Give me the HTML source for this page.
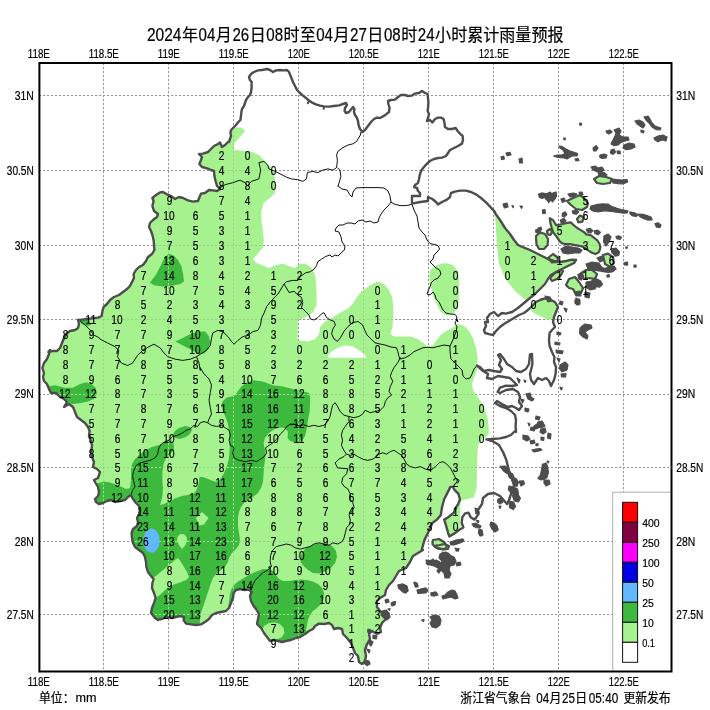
<!DOCTYPE html><html><head><meta charset="utf-8"><title>24小时累计雨量预报</title>
<style>html,body{margin:0;padding:0;background:#fff}body{width:710px;height:710px;overflow:hidden}svg{display:block}text{font-family:"Liberation Sans","Noto Sans CJK SC",sans-serif;fill:#000;stroke:#000;stroke-width:0.2px}</style></head><body>
<svg width="710" height="710" viewBox="0 0 710 710">
<rect width="710" height="710" fill="#fff"/>
<defs><clipPath id="land"><path d="M229.0,142.0 L230.0,139.0 L231.0,136.0 L230.4,133.0 L231.0,130.0 L233.0,128.0 L236.0,125.0 L238.0,122.4 L240.4,120.0 L241.0,116.0 L241.4,112.0 L242.0,109.0 L244.0,106.0 L245.0,103.0 L246.0,100.0 L248.0,97.0 L250.0,95.0 L251.0,92.0 L251.6,88.0 L251.6,82.0 L250.0,80.0 L249.0,77.0 L251.0,74.0 L254.0,72.0 L258.0,70.4 L262.0,70.0 L267.0,69.0 L270.0,70.0 L273.0,72.0 L276.0,70.4 L280.0,70.0 L284.0,70.4 L284.0,70.4 L287.0,70.0 L289.0,72.0 L291.0,77.0 L293.0,82.0 L295.0,86.0 L297.0,90.0 L300.0,93.0 L303.0,95.6 L306.0,98.0 L309.0,100.6 L312.0,102.6 L316.0,104.4 L320.0,105.6 L324.0,106.4 L329.0,106.6 L334.0,106.0 L339.0,105.4 L343.0,104.0 L346.0,103.0 L347.0,105.0 L345.0,108.0 L344.6,111.0 L346.0,113.0 L349.0,112.0 L351.0,109.6 L353.0,107.0 L354.4,109.0 L354.0,112.0 L355.0,115.0 L357.0,118.0 L358.0,121.0 L358.6,125.0 L360.0,129.0 L362.4,132.0 L365.0,130.0 L368.0,126.0 L371.0,122.0 L374.0,119.0 L377.0,117.6 L380.0,118.0 L380.0,118.0 L383.0,116.4 L386.0,114.4 L389.0,112.0 L389.6,108.0 L388.4,104.0 L388.0,101.0 L391.0,100.0 L395.0,99.6 L398.0,97.0 L401.0,95.0 L405.0,95.0 L408.0,96.0 L412.0,95.6 L415.0,93.6 L419.0,93.0 L422.0,91.0 L425.0,93.0 L427.6,94.0 L428.0,98.0 L428.4,103.0 L428.0,108.0 L427.6,111.0 L429.0,114.0 L428.0,118.0 L427.0,121.0 L430.0,120.0 L432.4,122.4 L435.0,119.0 L438.0,117.6 L441.0,117.6 L443.6,119.0 L444.4,122.4 L445.0,127.0 L448.0,129.0 L452.0,129.0 L455.6,128.0 L457.6,131.0 L460.0,133.6 L462.6,136.0 L463.0,140.0 L462.0,143.6 L458.0,146.0 L454.0,148.0 L450.0,150.0 L448.0,153.0 L446.0,156.0 L442.0,157.6 L438.0,158.0 L434.0,159.0 L430.0,161.0 L427.0,163.6 L424.0,167.0 L421.6,170.0 L420.0,174.0 L419.0,179.0 L418.0,183.0 L415.0,185.0 L414.0,187.0 L417.0,188.0 L418.0,191.0 L420.0,193.0 L420.0,196.0 L412.0,196.0 L412.0,203.6 L420.0,202.0 L428.0,201.0 L428.0,197.0 L432.4,199.0 L436.0,202.0 L438.0,204.4 L442.0,202.0 L447.0,199.6 L450.0,197.0 L451.0,193.0 L455.0,191.6 L460.0,190.6 L466.0,190.6 L471.0,192.0 L476.0,194.4 L481.0,198.0 L486.0,202.4 L491.0,207.6 L495.0,212.0 L495.0,213.0 L500.0,220.0 L505.0,228.0 L510.0,234.0 L514.0,240.0 L518.0,245.0 L524.0,247.6 L530.0,250.0 L536.0,253.0 L542.0,256.0 L548.0,259.0 L554.0,261.0 L560.0,262.0 L566.0,261.0 L572.0,259.6 L576.0,260.0 L574.0,263.0 L568.0,266.0 L562.0,269.0 L556.0,272.0 L551.0,275.0 L548.0,279.0 L545.0,284.0 L540.0,289.0 L535.0,294.0 L530.0,298.0 L524.0,303.0 L518.0,308.0 L512.0,312.0 L506.0,313.6 L502.0,313.0 L498.0,316.0 L494.0,312.0 L490.0,314.0 L487.0,318.0 L488.0,322.0 L488.0,322.0 L485.0,322.0 L486.0,326.0 L484.0,330.0 L485.0,333.0 L490.0,334.4 L493.0,335.0 L496.0,331.0 L500.0,327.0 L504.0,324.0 L509.0,321.0 L514.0,318.0 L519.0,315.0 L524.0,313.0 L528.0,310.0 L532.0,306.0 L536.0,302.0 L540.0,300.0 L545.0,298.4 L550.0,299.6 L555.0,302.0 L558.0,307.0 L556.0,312.0 L554.0,317.0 L553.0,322.0 L555.0,327.0 L552.0,330.0 L549.6,333.0 L549.0,340.0 L549.6,346.0 L552.0,352.0 L554.4,357.0 L554.0,362.0 L556.0,367.0 L555.6,374.0 L554.0,380.0 L551.0,386.0 L549.0,381.0 L546.0,378.0 L542.0,380.0 L538.0,378.0 L534.0,384.0 L531.0,380.0 L530.0,374.0 L531.0,370.0 L532.4,364.0 L532.0,354.0 L530.0,354.4 L529.0,364.0 L526.0,369.0 L521.0,372.0 L516.0,371.0 L512.0,367.0 L507.0,364.0 L504.0,359.0 L500.0,354.0 L498.0,355.0 L501.0,360.0 L499.0,365.0 L502.0,369.0 L500.0,372.0 L494.0,371.0 L489.0,370.0 L484.0,371.0 L480.0,367.0 L477.0,365.6 L483.0,371.0 L488.0,374.0 L487.0,378.0 L492.0,379.0 L498.0,376.0 L504.0,377.0 L510.0,378.0 L514.0,382.0 L517.0,385.0 L512.0,386.0 L506.0,385.6 L500.0,387.6 L497.6,392.0 L500.0,393.0 L506.0,390.0 L513.0,389.0 L518.0,392.0 L520.0,397.0 L519.0,402.0 L522.0,406.0 L519.0,410.0 L516.0,408.0 L512.0,406.0 L508.0,407.0 L502.0,404.0 L497.0,401.0 L495.0,403.0 L500.0,406.0 L506.0,408.0 L511.0,411.0 L515.0,415.0 L516.0,420.0 L515.6,426.0 L516.0,432.0 L515.0,431.0 L511.0,435.0 L506.0,437.0 L500.0,438.4 L492.0,439.0 L486.4,439.4 L492.4,441.0 L499.0,445.0 L503.0,452.0 L506.0,459.0 L507.6,465.0 L509.0,471.0 L512.0,477.0 L514.4,482.0 L513.6,488.0 L511.0,494.0 L509.0,500.0 L507.0,504.0 L503.6,500.0 L500.0,496.0 L494.0,493.0 L488.0,494.0 L483.0,498.0 L482.0,504.0 L478.0,510.0 L478.6,513.9 L476.3,517.3 L474.1,519.6 L470.7,517.3 L468.5,512.8 L465.1,513.4 L462.3,517.3 L461.7,523.0 L463.4,527.5 L459.4,529.7 L454.9,533.1 L449.3,536.5 L448.2,533.1 L445.9,525.2 L444.2,519.6 L448.2,517.3 L453.8,512.8 L456.1,507.2 L458.3,503.8 L460.0,499.3 L458.3,493.7 L454.9,490.3 L452.7,486.9 L450.4,486.9 L448.2,491.4 L444.2,499.3 L442.0,507.2 L440.8,515.1 L436.9,519.6 L432.4,523.0 L429.0,530.8 L424.5,539.9 L422.3,547.7 L421.7,550.0 L423.0,550.0 L418.0,553.0 L413.0,556.0 L410.0,562.0 L406.0,568.0 L399.0,571.0 L396.0,576.0 L393.0,581.0 L389.0,585.0 L386.0,590.0 L385.0,595.0 L380.0,598.0 L377.0,601.0 L377.0,607.0 L380.0,611.0 L384.0,614.0 L386.0,619.0 L382.0,623.0 L380.0,628.0 L381.0,632.0 L377.0,634.0 L372.0,631.0 L369.0,634.0 L370.0,639.0 L367.0,644.0 L365.0,650.0 L366.0,656.0 L365.0,661.0 L362.0,664.0 L359.0,662.0 L358.0,656.0 L355.0,653.0 L353.0,648.0 L351.0,643.0 L347.0,638.0 L343.0,634.0 L342.0,629.0 L338.0,628.0 L334.0,629.0 L332.0,625.0 L329.0,623.0 L324.0,624.0 L319.0,623.6 L315.0,626.0 L313.0,629.0 L309.0,631.0 L305.0,634.0 L300.0,637.0 L300.0,637.0 L296.0,638.0 L291.0,640.0 L286.0,641.0 L282.0,642.0 L278.0,641.0 L274.0,640.0 L270.0,641.0 L267.0,637.0 L264.0,633.0 L261.0,628.0 L257.0,624.0 L258.0,619.0 L259.0,614.0 L256.0,609.0 L253.0,605.0 L251.0,601.0 L250.0,596.0 L251.6,592.0 L249.0,589.6 L244.0,590.0 L240.0,589.0 L236.0,590.0 L233.6,593.0 L233.0,598.0 L231.0,603.0 L229.0,608.0 L226.0,611.0 L221.0,612.0 L216.0,613.0 L212.0,615.0 L209.0,619.0 L205.0,622.0 L201.0,624.4 L196.0,625.0 L191.0,624.4 L186.0,623.6 L183.6,620.0 L184.0,617.0 L180.0,616.0 L176.0,617.0 L172.0,618.0 L167.0,617.0 L162.0,619.0 L158.0,619.6 L158.0,620.0 L155.0,618.0 L151.0,613.0 L152.0,608.0 L154.0,603.0 L155.6,598.0 L154.0,593.0 L152.0,588.0 L152.4,583.0 L153.6,579.0 L151.0,576.0 L148.0,572.0 L146.4,567.0 L146.0,562.0 L145.0,557.0 L143.0,553.0 L139.0,550.0 L135.0,547.0 L133.0,543.0 L132.0,538.0 L131.6,533.0 L133.0,529.0 L137.0,526.0 L138.0,522.0 L137.0,518.0 L139.0,514.0 L140.0,510.0 L139.0,506.0 L136.0,503.0 L133.0,499.0 L131.0,495.0 L128.0,497.0 L125.0,500.0 L120.0,501.0 L115.0,502.0 L111.0,500.0 L107.0,501.0 L103.0,503.0 L99.0,504.0 L96.0,502.0 L95.0,499.0 L98.0,496.0 L99.0,492.0 L98.0,487.0 L95.6,483.0 L94.0,480.0 L94.0,480.0 L98.0,478.0 L100.0,472.0 L97.0,469.0 L93.0,467.0 L94.0,462.0 L92.0,457.0 L91.0,452.0 L92.0,446.0 L91.0,441.0 L89.0,436.0 L89.6,431.0 L88.0,427.0 L85.0,423.0 L81.0,420.0 L77.0,417.0 L75.0,412.0 L73.0,407.0 L69.0,404.0 L64.0,407.0 L67.0,402.0 L64.0,399.0 L60.0,397.0 L56.0,393.0 L51.0,393.0 L49.0,389.0 L47.0,384.0 L44.0,381.0 L43.0,377.0 L44.0,373.0 L42.4,368.0 L44.0,363.0 L47.0,359.0 L49.0,354.0 L50.0,350.0 L50.0,350.0 L48.4,352.0 L52.0,351.0 L57.0,351.0 L60.0,348.0 L62.0,343.0 L64.0,338.0 L66.0,334.0 L70.0,331.0 L75.0,330.0 L78.0,328.0 L79.0,324.0 L78.0,320.0 L82.0,319.6 L87.0,319.0 L92.0,318.4 L98.0,317.6 L101.6,316.0 L102.4,311.0 L103.6,307.0 L107.0,304.0 L110.0,300.0 L114.0,297.0 L119.0,295.0 L123.0,292.0 L127.0,289.0 L130.0,286.0 L132.0,282.0 L134.0,278.0 L133.6,274.0 L136.0,270.0 L139.0,267.0 L143.0,265.0 L146.0,261.0 L148.0,257.0 L152.0,254.0 L154.4,250.0 L154.0,245.0 L153.6,240.0 L152.4,235.0 L151.0,231.0 L149.0,227.0 L150.0,223.0 L153.0,220.0 L153.0,220.0 L157.0,217.0 L158.0,214.0 L154.0,211.0 L152.4,206.0 L153.6,201.0 L152.4,198.0 L156.0,195.0 L160.0,192.4 L163.0,192.0 L167.0,194.4 L171.0,196.0 L175.0,199.0 L179.0,197.0 L183.0,198.0 L188.0,200.4 L193.0,201.6 L198.0,201.0 L199.6,197.0 L201.0,193.6 L205.0,193.0 L209.0,190.0 L213.0,190.4 L217.0,191.0 L220.0,189.0 L217.0,186.0 L215.6,181.0 L214.4,176.0 L214.0,171.0 L211.0,170.0 L207.0,168.4 L202.0,167.0 L199.4,164.0 L201.0,160.0 L202.0,157.0 L199.0,154.0 L203.0,153.6 L208.0,152.0 L211.0,149.0 L214.0,146.0 L218.0,144.0 L220.0,142.4 L222.0,147.0 L225.0,145.0 L228.0,142.0ZM567.0,201.0 L573.0,198.0 L580.0,195.0 L584.0,198.0 L588.0,203.0 L587.0,207.0 L582.0,210.0 L576.0,209.0 L571.0,205.0Z M577.0,219.0 L580.0,215.6 L583.6,217.0 L582.4,221.6 L578.4,222.4Z M549.7,218.2 L553.2,220.3 L556.1,225.2 L560.3,224.5 L565.9,223.1 L570.8,222.4 L573.7,225.2 L577.2,228.0 L580.7,230.1 L584.2,232.3 L586.3,234.4 L590.6,235.1 L594.1,237.9 L597.6,240.7 L599.7,244.2 L600.4,247.7 L599.0,252.0 L595.5,254.1 L592.0,252.7 L588.5,250.6 L585.6,248.5 L582.1,246.3 L577.9,245.6 L573.7,244.9 L570.1,244.2 L565.9,244.2 L562.4,243.5 L559.6,241.4 L557.5,237.9 L555.4,235.1 L553.2,232.3 L551.8,228.0 L550.4,223.1Z M536.0,236.0 L540.0,232.4 L545.0,234.0 L548.0,239.0 L547.6,245.0 L544.0,249.0 L539.0,249.0 L536.4,244.0Z M547.0,231.0 L550.0,229.0 L552.4,231.6 L550.4,235.0 L547.6,234.4Z M594.0,179.0 L599.0,176.0 L606.0,177.0 L612.0,179.0 L610.0,183.0 L603.0,184.0 L597.0,183.0Z M603.0,255.0 L608.0,253.6 L613.0,257.0 L614.0,263.0 L610.0,267.0 L605.0,264.0Z M566.0,285.0 L569.0,279.0 L575.0,277.0 L579.0,282.0 L583.0,288.0 L581.0,293.0 L576.0,294.0 L573.0,289.0 L569.0,288.0Z M580.0,274.0 L586.0,270.0 L592.0,270.0 L597.0,274.0 L595.0,279.0 L589.0,278.0 L584.0,279.0Z M548.0,258.0 L553.0,254.0 L557.0,257.0 L559.0,262.0 L552.0,262.4Z M550.0,278.0 L555.0,273.0 L560.0,270.0 L563.0,271.0 L561.0,275.0 L557.0,279.0 L552.0,281.0Z M440.0,545.0 L444.0,544.0 L449.0,546.0 L448.0,549.0 L443.0,549.6 L440.0,548.4 L437.0,548.0 L436.0,545.6Z M433.0,540.0 L439.0,539.0 L444.0,542.0 L447.0,546.0 L445.0,549.0 L439.0,549.0 L435.0,547.0 L432.4,544.0Z"/></clipPath>
<clipPath id="dg"><path d="M168.2,253.9 L163.9,258.9 L160.2,266.4 L156.4,274.0 L152.6,279.0 L150.1,282.7 L153.9,285.2 L162.7,286.5 L172.7,285.7 L180.2,284.0 L184.0,281.5 L183.2,274.0 L181.5,266.4 L178.2,260.2 L174.0,255.7 L170.2,253.9Z M175.2,341.6 L182.7,337.9 L190.3,334.1 L199.0,331.6 L205.3,331.6 L209.1,336.6 L210.3,342.9 L208.3,349.2 L204.0,353.4 L199.0,354.2 L192.8,350.4 L185.2,346.7 L179.0,343.4Z M78.9,320.1 L88.9,318.8 L91.4,325.1 L86.4,326.3 L81.4,323.8Z M47.5,386.5 L55.1,385.2 L65.1,387.7 L72.6,387.7 L80.1,384.0 L86.4,382.2 L91.4,384.0 L95.7,387.7 L97.2,394.0 L93.9,399.0 L87.7,401.5 L80.1,403.3 L72.6,404.0 L65.1,401.5 L57.6,397.8 L51.3,394.0 L47.5,390.3Z M174.0,432.0 L179.0,428.0 L185.0,426.0 L190.0,427.0 L192.0,430.0 L190.0,434.0 L186.0,437.0 L180.0,439.0 L175.0,438.0 L173.6,435.0Z M300.0,559.0 L302.0,553.0 L306.0,548.0 L312.0,545.0 L319.0,543.6 L326.0,543.6 L332.0,546.0 L336.0,551.0 L337.0,557.0 L335.0,563.0 L331.0,568.0 L325.0,571.6 L319.0,573.6 L313.0,573.0 L308.0,570.0 L303.6,566.0 L301.0,562.4Z M228.0,640.0 L228.0,615.0 L228.0,607.0 L229.0,602.0 L229.6,596.0 L231.0,590.0 L234.0,585.0 L238.0,581.6 L243.0,578.4 L248.0,575.6 L253.0,573.0 L258.0,571.0 L263.0,569.0 L268.0,569.0 L273.0,571.0 L276.0,575.0 L279.0,579.0 L283.0,581.0 L289.0,581.0 L295.0,580.0 L301.0,579.6 L307.0,580.0 L313.0,581.6 L318.0,584.0 L322.0,588.0 L324.0,593.0 L323.6,599.0 L321.0,604.0 L317.0,608.0 L313.0,611.0 L310.0,615.0 L308.0,620.0 L307.0,625.0 L306.0,630.0 L306.0,660.0 L228.0,660.0Z M253.9,380.3 L262.7,381.5 L272.7,385.3 L282.7,386.5 L292.8,389.0 L302.8,391.6 L309.0,392.8 L310.3,397.8 L309.8,410.4 L308.0,420.0 L307.0,428.0 L305.0,436.0 L302.0,441.0 L296.0,442.4 L290.0,441.0 L287.6,438.0 L288.0,432.0 L285.0,428.0 L280.0,427.6 L274.0,429.6 L269.0,433.0 L265.0,438.0 L263.6,443.0 L264.4,448.0 L265.6,453.0 L265.0,460.0 L264.0,467.0 L263.6,474.0 L263.0,482.0 L261.0,488.0 L258.0,493.0 L253.0,497.0 L248.0,500.0 L244.0,503.0 L241.0,507.0 L239.0,512.0 L238.0,518.0 L238.0,526.0 L239.0,533.0 L240.0,540.0 L239.0,545.0 L236.0,549.0 L232.0,553.0 L229.0,558.0 L228.0,562.0 L225.0,567.0 L220.0,571.0 L216.0,574.0 L213.0,578.0 L211.0,583.0 L209.0,589.0 L207.0,595.0 L205.0,601.0 L203.0,607.0 L201.0,613.0 L200.0,619.0 L199.0,640.0 L120.0,660.0 L70.0,560.0 L88.0,484.0 L99.0,483.0 L104.0,481.5 L110.0,482.5 L116.0,484.4 L122.0,487.0 L126.0,489.0 L130.0,488.0 L131.0,480.0 L131.0,470.0 L132.0,464.0 L135.0,459.0 L140.0,454.0 L146.0,450.0 L152.0,447.0 L159.0,445.0 L164.0,443.0 L168.0,441.0 L171.6,441.6 L174.0,445.0 L173.6,450.0 L170.0,455.0 L166.0,458.0 L163.6,464.0 L162.4,472.0 L162.4,480.0 L163.0,488.0 L162.4,496.0 L161.0,502.0 L160.0,505.0 L164.0,504.0 L170.0,501.0 L176.0,498.0 L182.0,496.0 L188.0,495.0 L193.0,494.0 L196.0,491.0 L198.0,486.0 L199.0,481.0 L199.6,477.0 L203.0,477.0 L208.0,479.0 L213.0,481.0 L217.0,482.0 L220.4,479.0 L224.0,473.0 L227.0,466.0 L229.0,458.0 L229.6,450.0 L230.0,440.0 L229.0,432.0 L228.0,424.0 L225.0,416.0 L222.6,410.0 L221.3,405.0 L222.6,401.6 L226.3,397.8 L231.3,396.6 L235.0,395.3 L237.6,391.6 L241.4,386.5 L246.4,382.8Z"/></clipPath>
<clipPath id="frame"><rect x="39.4" y="63" width="631.6" height="608.3"/></clipPath></defs>
<g clip-path="url(#frame)">
<path d="M39,95.5H671 M39,170.5H671 M39,245.5H671 M39,319.5H671 M39,394.5H671 M39,467.5H671 M39,541.5H671 M39,614.5H671 M103.5,63V671 M168.5,63V671 M233.5,63V671 M298.5,63V671 M363.5,63V671 M428.5,63V671 M493.5,63V671 M558.5,63V671 M623.5,63V671" stroke="#959595" stroke-width="1" stroke-dasharray="2.2,1.8" fill="none" opacity="1" />
<g clip-path="url(#land)">
<path d="M0.0,700.0 L0.0,127.5 L241.4,127.5 L245.1,131.3 L233.8,143.8 L233.8,150.1 L250.1,151.3 L258.9,155.1 L263.9,160.1 L270.2,166.4 L274.0,172.6 L275.2,182.7 L275.2,192.7 L270.2,197.7 L263.9,202.7 L261.4,210.3 L261.4,220.3 L262.7,230.3 L263.9,240.3 L262.7,247.9 L257.7,254.1 L252.6,259.1 L256.4,262.9 L262.7,265.4 L268.9,267.9 L275.2,265.4 L282.7,263.4 L290.3,266.7 L295.3,267.9 L299.0,264.2 L305.3,263.4 L311.6,267.9 L315.3,275.4 L316.3,288.0 L316.6,298.0 L316.6,280.0 L316.6,305.1 L312.8,312.6 L305.3,317.6 L299.0,319.6 L297.8,321.4 L297.8,338.9 L299.0,340.2 L307.8,341.4 L315.3,338.9 L319.1,333.9 L320.3,326.4 L325.4,321.4 L332.9,317.6 L340.4,312.6 L347.9,308.8 L352.9,303.8 L356.7,297.5 L361.7,291.3 L370.5,285.0 L378.0,281.3 L377.7,281.4 L384.0,283.9 L389.0,290.1 L392.3,297.7 L393.3,307.7 L393.3,317.7 L392.3,327.7 L390.3,334.0 L394.0,336.5 L400.3,336.5 L410.3,336.5 L417.8,339.0 L422.8,342.8 L427.9,346.5 L432.9,345.3 L436.6,340.3 L440.4,335.3 L445.4,331.5 L450.4,329.0 L456.7,325.2 L458.0,324.0 L464.0,326.0 L469.0,331.0 L473.0,338.0 L476.0,348.0 L477.6,358.0 L477.0,370.0 L474.0,378.0 L472.0,384.0 L473.0,390.0 L477.0,396.0 L481.0,402.0 L485.0,410.0 L488.0,420.0 L489.0,432.0 L488.0,435.0 L483.0,439.0 L479.0,443.0 L477.6,450.0 L477.0,470.0 L476.6,488.0 L474.0,497.0 L468.0,499.0 L462.0,500.0 L460.3,503.0 L460.3,531.0 L459.0,700.0Z" fill="#a6f28f"/>
<path d="M430.4,270.1 L436.6,265.1 L445.4,263.1 L452.9,265.1 L457.9,271.3 L459.2,280.1 L459.2,295.2 L457.9,307.7 L452.9,314.0 L445.4,315.2 L440.4,311.5 L436.6,303.9 L432.9,295.2 L430.4,285.1 L429.1,277.6Z" fill="#a6f28f"/>
<path d="M495.0,150.0 L495.0,213.0 L496.0,230.0 L497.0,246.0 L499.0,264.0 L506.0,280.0 L516.0,292.0 L526.0,300.0 L530.0,306.0 L532.0,312.0 L540.0,316.0 L548.0,320.0 L554.0,318.0 L560.0,312.0 L660.0,312.0 L660.0,150.0Z" fill="#a6f28f"/>
<path d="M327.9,357.7 L328.4,355.2 L331.6,351.5 L337.9,347.7 L345.4,345.2 L352.9,346.4 L359.2,350.2 L364.2,354.0 L366.7,357.7Z" fill="#fff"/>
<path d="M39,95.5H671 M39,170.5H671 M39,245.5H671 M39,319.5H671 M39,394.5H671 M39,467.5H671 M39,541.5H671 M39,614.5H671 M103.5,63V671 M168.5,63V671 M233.5,63V671 M298.5,63V671 M363.5,63V671 M428.5,63V671 M493.5,63V671 M558.5,63V671 M623.5,63V671" stroke="#7a8a7a" stroke-width="1" stroke-dasharray="2.2,1.8" fill="none" opacity="0.28" />
<path d="M168.2,253.9 L163.9,258.9 L160.2,266.4 L156.4,274.0 L152.6,279.0 L150.1,282.7 L153.9,285.2 L162.7,286.5 L172.7,285.7 L180.2,284.0 L184.0,281.5 L183.2,274.0 L181.5,266.4 L178.2,260.2 L174.0,255.7 L170.2,253.9Z" fill="#3dba3d"/>
<path d="M175.2,341.6 L182.7,337.9 L190.3,334.1 L199.0,331.6 L205.3,331.6 L209.1,336.6 L210.3,342.9 L208.3,349.2 L204.0,353.4 L199.0,354.2 L192.8,350.4 L185.2,346.7 L179.0,343.4Z" fill="#3dba3d"/>
<path d="M78.9,320.1 L88.9,318.8 L91.4,325.1 L86.4,326.3 L81.4,323.8Z" fill="#3dba3d"/>
<path d="M47.5,386.5 L55.1,385.2 L65.1,387.7 L72.6,387.7 L80.1,384.0 L86.4,382.2 L91.4,384.0 L95.7,387.7 L97.2,394.0 L93.9,399.0 L87.7,401.5 L80.1,403.3 L72.6,404.0 L65.1,401.5 L57.6,397.8 L51.3,394.0 L47.5,390.3Z" fill="#3dba3d"/>
<path d="M174.0,432.0 L179.0,428.0 L185.0,426.0 L190.0,427.0 L192.0,430.0 L190.0,434.0 L186.0,437.0 L180.0,439.0 L175.0,438.0 L173.6,435.0Z" fill="#3dba3d"/>
<path d="M300.0,559.0 L302.0,553.0 L306.0,548.0 L312.0,545.0 L319.0,543.6 L326.0,543.6 L332.0,546.0 L336.0,551.0 L337.0,557.0 L335.0,563.0 L331.0,568.0 L325.0,571.6 L319.0,573.6 L313.0,573.0 L308.0,570.0 L303.6,566.0 L301.0,562.4Z" fill="#3dba3d"/>
<path d="M228.0,640.0 L228.0,615.0 L228.0,607.0 L229.0,602.0 L229.6,596.0 L231.0,590.0 L234.0,585.0 L238.0,581.6 L243.0,578.4 L248.0,575.6 L253.0,573.0 L258.0,571.0 L263.0,569.0 L268.0,569.0 L273.0,571.0 L276.0,575.0 L279.0,579.0 L283.0,581.0 L289.0,581.0 L295.0,580.0 L301.0,579.6 L307.0,580.0 L313.0,581.6 L318.0,584.0 L322.0,588.0 L324.0,593.0 L323.6,599.0 L321.0,604.0 L317.0,608.0 L313.0,611.0 L310.0,615.0 L308.0,620.0 L307.0,625.0 L306.0,630.0 L306.0,660.0 L228.0,660.0Z" fill="#3dba3d"/>
<path d="M253.9,380.3 L262.7,381.5 L272.7,385.3 L282.7,386.5 L292.8,389.0 L302.8,391.6 L309.0,392.8 L310.3,397.8 L309.8,410.4 L308.0,420.0 L307.0,428.0 L305.0,436.0 L302.0,441.0 L296.0,442.4 L290.0,441.0 L287.6,438.0 L288.0,432.0 L285.0,428.0 L280.0,427.6 L274.0,429.6 L269.0,433.0 L265.0,438.0 L263.6,443.0 L264.4,448.0 L265.6,453.0 L265.0,460.0 L264.0,467.0 L263.6,474.0 L263.0,482.0 L261.0,488.0 L258.0,493.0 L253.0,497.0 L248.0,500.0 L244.0,503.0 L241.0,507.0 L239.0,512.0 L238.0,518.0 L238.0,526.0 L239.0,533.0 L240.0,540.0 L239.0,545.0 L236.0,549.0 L232.0,553.0 L229.0,558.0 L228.0,562.0 L225.0,567.0 L220.0,571.0 L216.0,574.0 L213.0,578.0 L211.0,583.0 L209.0,589.0 L207.0,595.0 L205.0,601.0 L203.0,607.0 L201.0,613.0 L200.0,619.0 L199.0,640.0 L120.0,660.0 L70.0,560.0 L88.0,484.0 L99.0,483.0 L104.0,481.5 L110.0,482.5 L116.0,484.4 L122.0,487.0 L126.0,489.0 L130.0,488.0 L131.0,480.0 L131.0,470.0 L132.0,464.0 L135.0,459.0 L140.0,454.0 L146.0,450.0 L152.0,447.0 L159.0,445.0 L164.0,443.0 L168.0,441.0 L171.6,441.6 L174.0,445.0 L173.6,450.0 L170.0,455.0 L166.0,458.0 L163.6,464.0 L162.4,472.0 L162.4,480.0 L163.0,488.0 L162.4,496.0 L161.0,502.0 L160.0,505.0 L164.0,504.0 L170.0,501.0 L176.0,498.0 L182.0,496.0 L188.0,495.0 L193.0,494.0 L196.0,491.0 L198.0,486.0 L199.0,481.0 L199.6,477.0 L203.0,477.0 L208.0,479.0 L213.0,481.0 L217.0,482.0 L220.4,479.0 L224.0,473.0 L227.0,466.0 L229.0,458.0 L229.6,450.0 L230.0,440.0 L229.0,432.0 L228.0,424.0 L225.0,416.0 L222.6,410.0 L221.3,405.0 L222.6,401.6 L226.3,397.8 L231.3,396.6 L235.0,395.3 L237.6,391.6 L241.4,386.5 L246.4,382.8Z" fill="#3dba3d"/>
<g clip-path="url(#dg)">
<path d="M39,95.5H671 M39,170.5H671 M39,245.5H671 M39,319.5H671 M39,394.5H671 M39,467.5H671 M39,541.5H671 M39,614.5H671 M103.5,63V671 M168.5,63V671 M233.5,63V671 M298.5,63V671 M363.5,63V671 M428.5,63V671 M493.5,63V671 M558.5,63V671 M623.5,63V671" stroke="#a6f28f" stroke-width="1" stroke-dasharray="2.2,1.8" fill="none" opacity="0.85" />
</g>
<path d="M153.0,578.0 L157.0,575.0 L163.0,570.0 L169.0,565.0 L175.0,560.0 L178.0,558.0 L181.0,562.0 L184.0,567.0 L187.0,572.0 L189.0,577.0 L186.0,580.0 L180.0,582.4 L174.0,584.4 L169.0,587.0 L164.0,591.0 L160.0,595.0 L157.0,597.0 L150.0,600.0 L148.0,580.0Z" fill="#a6f28f"/>
<path d="M177.0,541.0 L177.5,537.0 L179.5,534.5 L182.0,534.0 L184.5,534.5 L186.5,537.0 L187.0,541.0 L185.5,545.0 L182.0,549.0 L179.0,545.0Z" fill="#a6f28f"/>
<path d="M196.0,518.0 L202.0,512.0 L208.5,518.0 L204.0,524.5 L199.0,525.5Z" fill="#a6f28f"/>
<path d="M262.0,631.0 L264.0,626.0 L269.0,623.0 L275.0,622.4 L280.0,624.0 L283.6,628.0 L284.4,633.0 L282.0,637.0 L277.0,639.6 L271.0,640.0 L266.0,638.0 L263.0,635.0Z" fill="#a6f28f"/>
<path d="M159.6,540.6 L159.4,542.9 L159.0,545.2 L158.2,547.3 L157.2,549.1 L156.0,550.6 L154.5,551.7 L153.0,552.4 L151.4,552.6 L149.8,552.4 L148.3,551.7 L146.8,550.6 L145.6,549.1 L144.6,547.3 L143.8,545.2 L143.4,542.9 L143.2,540.6 L143.4,538.3 L143.8,536.0 L144.6,533.9 L145.6,532.1 L146.8,530.6 L148.3,529.5 L149.8,528.8 L151.4,528.6 L153.0,528.8 L154.5,529.5 L156.0,530.6 L157.2,532.1 L158.2,533.9 L159.0,536.0 L159.4,538.3Z" fill="#61b8ff"/>
</g>
<path d="M220.1,187.7 L225.1,184.7 L232.6,182.7 L240.1,180.2 L245.1,182.7 L247.6,185.7 L251.4,181.4 L258.9,178.9 L260.7,170.1 L258.9,162.6 L263.9,161.4 L267.7,165.1 L268.9,168.9 L275.2,171.4 L280.2,173.9 L286.5,177.2 L291.5,178.9 L297.8,179.7 L302.8,181.4 L306.5,178.9 L307.3,172.6 L312.8,171.4 L317.8,172.6 L322.8,170.1 L327.9,168.9 L332.9,170.1 L336.6,167.6 L337.4,160.1 L336.6,155.1 L337.9,151.3 L342.9,147.6 L347.9,145.1 L352.9,143.8 L356.7,141.3 L360.4,135.0 L361.0,132.0" stroke="#0a140a" stroke-width="1" fill="none" stroke-linejoin="round"/>
<path d="M337.4,167.6 L339.9,170.1 L340.9,176.4 L339.1,182.7 L337.9,186.4 L338.0,186.0 L342.0,189.0 L347.0,190.0 L350.0,195.0 L352.0,197.0 L353.0,192.0 L356.0,188.0 L362.0,187.6 L370.0,187.6 L378.0,187.6 L384.0,188.0 L388.0,191.0 L390.0,196.0 L391.0,202.0 L394.0,204.0 L400.0,205.6 L406.0,205.6 L412.0,204.4" stroke="#0a140a" stroke-width="1" fill="none" stroke-linejoin="round"/>
<path d="M391.0,202.0 L388.0,206.0 L384.0,210.0 L381.0,214.0 L379.0,218.0 L378.0,222.0 L374.0,223.0 L370.0,221.0 L366.0,222.0 L362.0,220.0 L358.0,221.0 L355.0,224.0 L351.0,223.0 L347.0,223.0 L343.0,225.0 L339.0,225.0 L336.0,228.0 L335.0,231.0 L339.0,232.0 L341.0,237.0 L342.0,242.0 L345.0,246.0 L344.4,250.0 L341.0,253.0 L338.0,256.0 L335.0,255.0 L332.0,257.0 L330.0,255.0 L325.4,256.6 L321.6,259.1 L317.8,261.6 L316.6,265.4 L314.1,269.2 L310.3,271.7 L305.3,272.9 L300.3,276.7 L297.8,280.4 L292.8,280.4 L286.5,281.7 L284.0,284.2" stroke="#0a140a" stroke-width="1" fill="none" stroke-linejoin="round"/>
<path d="M412.0,204.4 L414.0,210.0 L417.0,216.0 L418.0,222.0 L419.0,228.0 L422.0,232.0 L425.0,235.0 L427.0,240.0 L430.0,243.6 L434.0,244.4 L438.0,245.6 L439.6,249.0 L437.0,252.0 L434.0,255.0 L433.0,259.0 L430.0,262.0 L433.0,265.0 L436.0,268.0 L439.6,270.0 L441.0,274.0 L438.0,278.0 L434.0,280.0 L431.0,283.0 L430.0,287.0 L428.0,291.0 L427.0,294.0 L430.0,295.0 L433.0,292.0 L435.0,295.0 L436.0,299.0 L439.0,302.0 L441.0,306.0 L443.0,310.0 L446.0,313.0 L450.0,314.0 L455.0,314.4 L457.0,317.0 L456.0,320.0 L458.0,322.0 L457.0,319.0 L455.0,323.0 L457.0,327.0 L456.0,332.0 L454.0,337.0 L452.0,342.0 L450.0,346.0" stroke="#0a140a" stroke-width="1" fill="none" stroke-linejoin="round"/>
<path d="M78.9,320.1 L85.2,325.1 L90.2,330.1 L93.9,335.1 L98.9,337.6 L100.0,339.1 L107.5,342.9 L115.0,346.7 L118.8,350.4 L117.5,356.7 L121.3,363.0 L127.6,365.5 L132.6,363.0 L137.6,355.4 L142.6,350.4 L148.9,346.7 L153.9,344.2 L160.2,347.9 L163.9,352.9 L167.7,356.7 L175.2,359.2 L182.7,360.4 L190.3,359.2 L196.5,356.7 L200.3,354.2 L206.5,350.4 L210.3,345.4 L211.6,337.9 L212.8,332.9 L217.8,330.4 L222.8,331.6 L227.9,336.6 L231.6,341.6 L234.1,344.2 L237.9,340.4 L242.9,336.6 L247.9,335.4 L252.9,331.6 L257.9,330.4 L260.4,325.4 L261.7,317.8 L264.2,312.8 L266.7,306.5 L270.5,301.5 L275.5,296.5 L278.0,294.0 L281.0,289.0 L284.0,284.0" stroke="#0a140a" stroke-width="1" fill="none" stroke-linejoin="round"/>
<path d="M284.0,284.0 L286.5,288.0 L289.0,292.5 L294.0,291.3 L297.8,295.0 L301.5,297.5 L302.8,302.6 L301.5,307.6 L305.3,311.3 L309.0,315.0 L310.3,318.9 L314.0,320.0 L317.8,317.6 L321.6,313.8 L324.0,312.6 L326.6,317.6 L330.4,320.0 L334.0,321.4 L335.4,325.0 L332.9,328.9 L331.6,333.9 L334.0,338.9 L337.4,341.4 L340.4,337.7 L344.0,331.4 L348.0,326.4 L353.0,322.6 L358.0,321.4 L362.7,325.0 L364.7,330.0 L367.0,335.0 L371.0,339.0 L375.0,342.8 L380.0,344.0 L385.0,345.0 L391.0,347.0 L396.5,347.8" stroke="#0a140a" stroke-width="1" fill="none" stroke-linejoin="round"/>
<path d="M400.0,359.0 L405.0,357.8 L410.0,355.0 L414.0,351.6 L417.8,350.0 L422.8,347.8 L427.9,347.3 L432.9,347.8 L437.9,346.5 L444.0,345.0 L450.0,346.0" stroke="#0a140a" stroke-width="1" fill="none" stroke-linejoin="round"/>
<path d="M450.0,346.0 L450.0,352.0 L451.0,359.0 L455.0,363.0 L459.0,367.0 L462.0,370.0 L463.0,376.0 L466.0,379.0 L470.0,378.0 L472.0,374.0 L474.0,369.0 L477.0,365.6" stroke="#0a140a" stroke-width="1" fill="none" stroke-linejoin="round"/>
<path d="M396.5,347.8 L397.8,351.6 L399.0,356.6 L400.0,359.0 L400.3,357.6 L397.8,362.6 L394.0,367.6 L391.5,372.6 L390.3,376.4 L392.8,381.4 L390.3,386.4 L389.0,391.4 L391.5,395.2 L387.8,397.7 L385.3,401.5 L384.0,406.5 L380.3,410.2 L375.2,411.5 L370.2,412.7 L365.2,410.2 L362.7,414.0 L358.9,416.5 L353.9,417.7 L348.9,416.5 L343.9,415.2 L340.1,411.5 L337.6,406.5 L335.1,402.7 L332.6,405.2 L331.4,410.2 L330.1,416.5 L327.6,421.5 L323.8,425.3 L318.8,426.5 L313.8,425.3 L308.8,426.5 L303.8,424.8 L298.8,425.8 L293.8,424.0 L290.0,424.8" stroke="#0a140a" stroke-width="1" fill="none" stroke-linejoin="round"/>
<path d="M207.7,422.8 L211.5,425.3 L216.5,426.5 L221.5,425.3 L225.3,427.8 L229.1,430.3 L230.3,435.3 L229.1,440.3 L230.3,445.3 L234.1,447.8 L232.8,452.8 L234.1,457.9 L239.1,460.4 L245.4,461.6 L251.6,460.4 L256.6,461.6 L260.4,459.1 L264.2,456.6 L266.7,452.8 L265.4,447.8 L269.2,445.3 L272.9,442.8 L276.7,439.1 L280.4,434.0 L284.2,430.3 L286.7,426.5 L290.5,424.0 L295.5,424.8 L298.0,424.0" stroke="#0a140a" stroke-width="1" fill="none" stroke-linejoin="round"/>
<path d="M196.5,356.7 L199.0,363.0 L200.3,370.5 L200.2,367.6 L204.0,373.9 L209.0,378.9 L211.5,385.2 L210.3,392.7 L209.0,400.2 L210.3,407.7 L211.5,414.0 L209.0,419.0 L207.7,422.8 L204.0,421.5 L200.2,422.8 L197.7,426.5 L194.0,425.3 L190.2,429.0 L186.4,430.3 L182.7,432.8 L177.7,435.3 L172.6,436.5 L168.9,440.3 L165.1,441.6 L161.4,444.1 L158.9,447.8 L157.6,454.1 L155.1,457.9 L150.1,460.4 L145.1,461.6 L140.1,462.9 L136.3,465.4 L133.8,470.4 L132.5,476.7 L133.8,481.7 L135.0,486.7 L132.5,490.4 L131.3,494.2" stroke="#0a140a" stroke-width="1" fill="none" stroke-linejoin="round"/>
<path d="M348.9,416.5 L348.9,421.5 L345.2,426.5 L342.6,430.3 L341.4,435.3 L342.6,440.3 L341.4,445.3 L343.9,450.3 L346.4,454.1 L350.2,455.4 L353.9,454.1 L357.7,456.6 L362.7,459.1 L367.7,460.4 L372.7,459.1 L376.5,456.6 L379.0,454.1 L382.8,452.8 L386.5,454.1 L390.3,451.6 L394.0,450.3 L397.8,452.8 L401.6,455.4 L404.1,459.1 L406.6,464.1 L410.3,466.6 L415.4,467.9 L420.4,466.6 L425.4,469.1 L430.4,470.4 L435.4,466.6 L439.2,462.9 L442.9,461.6 L446.7,464.1 L450.4,467.9 L453.0,472.9 L455.5,477.9 L459.2,480.4 L457.5,483.4" stroke="#0a140a" stroke-width="1" fill="none" stroke-linejoin="round"/>
<path d="M346.4,454.1 L343.9,456.6 L338.9,459.1 L335.1,462.9 L337.6,467.9 L347.8,468.8 L346.6,473.8 L342.8,477.6 L341.6,482.6 L344.1,486.4 L347.8,488.9 L350.3,493.9 L349.8,498.9 L352.8,502.7 L354.1,507.7 L351.6,511.5 L349.1,515.2 L350.3,520.2 L349.1,525.2 L346.6,527.7 L345.3,532.8 L344.1,537.8 L342.3,541.5 L337.8,544.0 L332.8,542.8 L329.0,545.3 L324.0,544.0 L319.0,542.8 L314.0,544.0 L310.2,546.5 L305.2,547.8 L300.2,549.1 L295.2,547.8 L291.4,545.3 L286.4,544.0 L281.4,545.3 L276.4,546.5 L272.6,550.3 L270.6,555.3 L270.1,561.6 L271.4,566.6 L267.6,570.4 L262.6,572.9 L258.8,576.6 L255.1,580.4 L252.6,585.4 L251.3,590.4" stroke="#0a140a" stroke-width="1" fill="none" stroke-linejoin="round"/>
<path d="M591.0,207.0 L597.0,204.4 L604.0,204.0 L610.0,206.0 L616.0,208.0 L622.0,210.0 L627.0,211.0 L626.0,213.0 L620.0,212.4 L614.0,211.6 L608.0,211.0 L602.0,210.0 L596.0,210.0 L592.0,210.0Z" stroke="#4d4d4d" stroke-width="1.2" fill="#4d4d4d" stroke-linejoin="round"/>
<path d="M630.0,212.0 L635.0,213.0 L638.0,215.0 L636.0,216.4 L632.0,215.6Z" stroke="#4d4d4d" stroke-width="1.2" fill="#4d4d4d" stroke-linejoin="round"/>
<path d="M640.0,215.0 L645.0,215.6 L650.0,217.0 L652.0,219.6 L648.0,220.0 L643.0,218.4Z" stroke="#4d4d4d" stroke-width="1.2" fill="#4d4d4d" stroke-linejoin="round"/>
<path d="M655.6,223.6 L658.4,223.0 L659.6,225.6 L657.0,227.0Z" stroke="#4d4d4d" stroke-width="1.2" fill="#4d4d4d" stroke-linejoin="round"/>
<path d="M561.0,249.0 L566.0,246.0 L572.0,247.0 L578.0,248.0 L582.0,250.0 L580.0,253.0 L574.0,253.0 L568.0,254.0 L563.0,253.0Z" stroke="#4d4d4d" stroke-width="1.2" fill="#4d4d4d" stroke-linejoin="round"/>
<path d="M538.0,228.0 L541.0,227.0 L541.6,229.6 L539.0,230.4Z" stroke="#4d4d4d" stroke-width="1.2" fill="#4d4d4d" stroke-linejoin="round"/>
<path d="M540.0,194.0 L544.0,193.0 L546.0,196.0 L543.0,197.6Z" stroke="#4d4d4d" stroke-width="1.2" fill="#4d4d4d" stroke-linejoin="round"/>
<path d="M550.0,195.0 L554.0,194.0 L555.6,198.0 L553.0,201.0 L550.4,199.0Z" stroke="#4d4d4d" stroke-width="1.2" fill="#4d4d4d" stroke-linejoin="round"/>
<path d="M586.0,264.0 L592.0,262.0 L599.0,263.0 L602.0,268.0 L599.0,271.0 L593.0,270.0 L588.0,269.0Z" stroke="#4d4d4d" stroke-width="1.2" fill="#4d4d4d" stroke-linejoin="round"/>
<path d="M597.0,258.0 L602.0,256.0 L604.0,260.0 L600.0,262.0Z" stroke="#4d4d4d" stroke-width="1.2" fill="#4d4d4d" stroke-linejoin="round"/>
<path d="M606.0,268.0 L614.0,266.0 L616.0,269.0 L610.0,271.0Z" stroke="#4d4d4d" stroke-width="1.2" fill="#4d4d4d" stroke-linejoin="round"/>
<path d="M586.0,282.0 L592.0,281.0 L597.0,284.0 L595.0,289.0 L590.0,290.0 L586.0,287.0Z" stroke="#4d4d4d" stroke-width="1.2" fill="#4d4d4d" stroke-linejoin="round"/>
<path d="M585.0,292.0 L590.0,293.0 L589.0,298.0 L585.0,297.0Z" stroke="#4d4d4d" stroke-width="1.2" fill="#4d4d4d" stroke-linejoin="round"/>
<path d="M576.0,298.0 L580.0,300.0 L579.0,305.0 L575.6,303.0Z" stroke="#4d4d4d" stroke-width="1.2" fill="#4d4d4d" stroke-linejoin="round"/>
<path d="M545.0,296.0 L550.0,297.0 L552.0,301.0 L548.0,302.0Z" stroke="#4d4d4d" stroke-width="1.2" fill="#4d4d4d" stroke-linejoin="round"/>
<path d="M624.0,263.0 L627.0,262.4 L627.6,264.4 L624.8,264.8Z" stroke="#4d4d4d" stroke-width="1.2" fill="#4d4d4d" stroke-linejoin="round"/>
<path d="M634.4,265.6 L636.0,266.0 L635.2,267.2Z" stroke="#4d4d4d" stroke-width="1.2" fill="#4d4d4d" stroke-linejoin="round"/>
<path d="M604.0,236.0 L608.0,234.0 L611.0,237.0 L609.0,242.0 L606.0,246.0 L603.6,242.0Z" stroke="#4d4d4d" stroke-width="1.2" fill="#4d4d4d" stroke-linejoin="round"/>
<path d="M611.0,249.0 L616.0,248.0 L619.0,252.0 L616.0,255.0 L612.0,253.0Z" stroke="#4d4d4d" stroke-width="1.2" fill="#4d4d4d" stroke-linejoin="round"/>
<path d="M635.0,121.0 L639.0,120.0 L643.0,122.0 L645.0,125.0 L643.0,128.0 L640.0,126.0 L637.0,124.0Z" stroke="#4d4d4d" stroke-width="1.2" fill="#4d4d4d" stroke-linejoin="round"/>
<path d="M644.0,117.0 L648.0,116.0 L650.0,119.0 L652.0,123.0 L655.0,126.0 L658.0,127.0 L661.0,128.0 L660.0,130.0 L656.0,129.6 L652.0,127.0 L649.0,123.0 L646.0,120.0Z" stroke="#4d4d4d" stroke-width="1.2" fill="#4d4d4d" stroke-linejoin="round"/>
<path d="M641.0,130.0 L644.0,131.0 L643.6,133.0 L641.0,132.0Z" stroke="#4d4d4d" stroke-width="1.2" fill="#4d4d4d" stroke-linejoin="round"/>
<path d="M654.0,138.0 L658.0,136.0 L663.0,135.0 L667.0,137.0 L666.0,141.0 L662.0,140.0 L658.0,141.6 L655.0,140.0Z" stroke="#4d4d4d" stroke-width="1.2" fill="#4d4d4d" stroke-linejoin="round"/>
<path d="M606.0,131.0 L610.0,130.0 L612.0,132.0 L609.0,134.0 L607.0,133.0Z" stroke="#4d4d4d" stroke-width="1.2" fill="#4d4d4d" stroke-linejoin="round"/>
<path d="M614.0,130.0 L619.0,128.0 L621.0,131.0 L619.0,135.0 L623.0,137.0 L628.0,137.0 L629.0,140.0 L625.0,141.0 L621.0,142.4 L618.0,145.0 L614.0,145.6 L611.0,144.0 L613.0,140.0 L615.0,136.0 L616.0,133.0Z" stroke="#4d4d4d" stroke-width="1.2" fill="#4d4d4d" stroke-linejoin="round"/>
<path d="M624.0,145.0 L629.0,143.0 L634.0,144.0 L635.0,147.0 L631.0,149.0 L626.0,149.6 L623.0,148.0Z" stroke="#4d4d4d" stroke-width="1.2" fill="#4d4d4d" stroke-linejoin="round"/>
<path d="M611.0,150.0 L614.0,149.0 L615.6,152.0 L613.0,154.4 L610.4,153.0Z" stroke="#4d4d4d" stroke-width="1.2" fill="#4d4d4d" stroke-linejoin="round"/>
<path d="M617.0,151.0 L620.0,151.0 L620.4,153.6 L617.6,153.6Z" stroke="#4d4d4d" stroke-width="1.2" fill="#4d4d4d" stroke-linejoin="round"/>
<path d="M593.0,148.0 L596.0,145.6 L598.0,148.0 L596.0,151.0 L593.6,151.0Z" stroke="#4d4d4d" stroke-width="1.2" fill="#4d4d4d" stroke-linejoin="round"/>
<path d="M600.0,155.0 L604.0,154.0 L607.0,155.0 L606.0,158.0 L602.0,158.4 L599.6,157.0Z" stroke="#4d4d4d" stroke-width="1.2" fill="#4d4d4d" stroke-linejoin="round"/>
<path d="M559.0,146.0 L562.0,146.4 L566.0,149.0 L570.0,151.0 L574.0,152.4 L577.6,153.6 L577.0,156.0 L573.0,155.6 L570.0,157.0 L567.0,159.0 L564.0,158.0 L560.0,157.6 L556.0,157.0 L553.6,156.0 L557.0,155.0 L562.0,155.0 L565.0,153.6 L563.0,150.0 L560.0,148.0Z" stroke="#4d4d4d" stroke-width="1.2" fill="#4d4d4d" stroke-linejoin="round"/>
<path d="M575.0,159.0 L578.0,158.4 L579.0,160.4 L576.0,161.0Z" stroke="#4d4d4d" stroke-width="1.2" fill="#4d4d4d" stroke-linejoin="round"/>
<path d="M579.8,123.2 L581.6,123.4 L581.4,125.2 L579.6,125.0Z" stroke="#4d4d4d" stroke-width="1.2" fill="#4d4d4d" stroke-linejoin="round"/>
<path d="M563.8,138.0 L565.4,138.2 L565.2,139.6 L563.8,139.6Z" stroke="#4d4d4d" stroke-width="1.2" fill="#4d4d4d" stroke-linejoin="round"/>
<path d="M591.0,167.0 L595.0,166.0 L598.0,168.0 L602.0,167.0 L604.0,170.0 L601.0,172.0 L597.0,171.6 L593.0,170.0Z" stroke="#4d4d4d" stroke-width="1.2" fill="#4d4d4d" stroke-linejoin="round"/>
<path d="M598.0,172.0 L604.0,172.4 L607.0,175.0 L604.0,176.0 L599.0,175.0Z" stroke="#4d4d4d" stroke-width="1.2" fill="#4d4d4d" stroke-linejoin="round"/>
<path d="M612.0,179.0 L617.0,179.6 L622.0,180.0 L627.0,179.6 L627.6,182.0 L623.0,184.0 L618.0,183.6 L613.0,183.0Z" stroke="#4d4d4d" stroke-width="1.2" fill="#4d4d4d" stroke-linejoin="round"/>
<path d="M568.0,194.0 L573.0,193.0 L577.0,194.0 L574.0,196.4 L570.0,197.0Z" stroke="#4d4d4d" stroke-width="1.2" fill="#4d4d4d" stroke-linejoin="round"/>
<path d="M579.0,192.4 L582.0,192.0 L583.0,194.4 L580.0,194.8Z" stroke="#4d4d4d" stroke-width="1.2" fill="#4d4d4d" stroke-linejoin="round"/>
<path d="M543.0,194.0 L546.0,193.6 L549.0,195.6 L550.0,199.0 L548.0,201.0 L545.6,199.0 L544.0,196.4Z" stroke="#4d4d4d" stroke-width="1.2" fill="#4d4d4d" stroke-linejoin="round"/>
<path d="M552.4,193.6 L555.6,192.4 L556.4,196.0 L554.4,199.0 L552.4,202.0 L551.0,199.6 L552.4,197.0Z" stroke="#4d4d4d" stroke-width="1.2" fill="#4d4d4d" stroke-linejoin="round"/>
<path d="M542.4,210.0 L544.8,209.6 L545.2,213.0 L542.8,213.4Z" stroke="#4d4d4d" stroke-width="1.2" fill="#4d4d4d" stroke-linejoin="round"/>
<path d="M561.0,199.0 L564.0,198.0 L565.6,201.0 L562.4,202.4Z" stroke="#4d4d4d" stroke-width="1.2" fill="#4d4d4d" stroke-linejoin="round"/>
<path d="M591.0,206.0 L596.0,205.0 L602.0,204.0 L608.0,204.0 L612.0,207.0 L618.0,209.0 L624.0,210.0 L628.0,211.0 L627.0,213.0 L622.0,213.0 L616.0,212.0 L610.0,211.0 L604.0,211.0 L598.0,212.0 L593.0,211.0 L590.0,209.0Z" stroke="#4d4d4d" stroke-width="1.2" fill="#4d4d4d" stroke-linejoin="round"/>
<path d="M630.0,212.0 L634.0,213.0 L636.0,215.0 L633.0,215.6 L630.0,214.0Z" stroke="#4d4d4d" stroke-width="1.2" fill="#4d4d4d" stroke-linejoin="round"/>
<path d="M638.0,214.0 L643.0,214.4 L647.0,215.6 L651.0,217.0 L652.0,219.6 L648.0,220.0 L644.0,218.0 L640.0,217.0Z" stroke="#4d4d4d" stroke-width="1.2" fill="#4d4d4d" stroke-linejoin="round"/>
<path d="M655.0,223.6 L658.0,223.0 L661.0,225.0 L660.0,227.6 L656.4,227.0Z" stroke="#4d4d4d" stroke-width="1.2" fill="#4d4d4d" stroke-linejoin="round"/>
<path d="M581.0,327.0 L585.0,324.0 L591.0,325.0 L592.0,328.0 L588.0,330.0 L585.0,332.0 L588.0,336.0 L587.0,339.0 L583.0,337.0 L580.0,334.0Z" stroke="#4d4d4d" stroke-width="1.2" fill="#4d4d4d" stroke-linejoin="round"/>
<path d="M625.0,263.0 L627.4,263.0 L627.4,265.0 L625.0,265.0Z" stroke="#4d4d4d" stroke-width="1.2" fill="#4d4d4d" stroke-linejoin="round"/>
<path d="M634.0,265.2 L636.0,265.2 L636.0,267.0 L634.0,267.0Z" stroke="#4d4d4d" stroke-width="1.2" fill="#4d4d4d" stroke-linejoin="round"/>
<path d="M575.0,300.0 L579.0,299.0 L580.0,303.0 L577.0,305.0 L575.0,303.0Z" stroke="#4d4d4d" stroke-width="1.2" fill="#4d4d4d" stroke-linejoin="round"/>
<path d="M560.0,301.0 L563.0,302.0 L562.0,305.0 L559.6,304.0Z" stroke="#4d4d4d" stroke-width="1.2" fill="#4d4d4d" stroke-linejoin="round"/>
<path d="M564.0,308.0 L567.0,309.0 L566.0,312.0Z" stroke="#4d4d4d" stroke-width="1.2" fill="#4d4d4d" stroke-linejoin="round"/>
<path d="M574.0,292.0 L580.0,291.0 L581.0,296.0 L576.0,296.0Z" stroke="#4d4d4d" stroke-width="1.2" fill="#4d4d4d" stroke-linejoin="round"/>
<path d="M578.0,300.0 L580.0,304.0 L577.0,304.4Z" stroke="#4d4d4d" stroke-width="1.2" fill="#4d4d4d" stroke-linejoin="round"/>
<path d="M580.0,328.0 L582.0,327.0 L582.4,335.0 L579.6,333.0Z" stroke="#4d4d4d" stroke-width="1.2" fill="#4d4d4d" stroke-linejoin="round"/>
<path d="M557.0,332.0 L561.0,333.0 L560.0,335.0 L557.0,334.4Z" stroke="#4d4d4d" stroke-width="1.2" fill="#4d4d4d" stroke-linejoin="round"/>
<path d="M555.0,342.0 L560.0,343.0 L559.6,345.0 L555.0,344.4Z" stroke="#4d4d4d" stroke-width="1.2" fill="#4d4d4d" stroke-linejoin="round"/>
<path d="M556.0,350.0 L563.0,351.0 L562.4,353.6 L556.4,353.0Z" stroke="#4d4d4d" stroke-width="1.2" fill="#4d4d4d" stroke-linejoin="round"/>
<path d="M557.0,358.0 L560.0,359.0 L559.0,362.0Z" stroke="#4d4d4d" stroke-width="1.2" fill="#4d4d4d" stroke-linejoin="round"/>
<path d="M560.0,365.0 L565.0,362.0 L568.0,365.0 L567.0,370.0 L562.0,372.0 L559.6,369.0Z" stroke="#4d4d4d" stroke-width="1.2" fill="#4d4d4d" stroke-linejoin="round"/>
<path d="M561.0,374.0 L566.0,373.6 L565.6,377.0 L561.6,377.0Z" stroke="#4d4d4d" stroke-width="1.2" fill="#4d4d4d" stroke-linejoin="round"/>
<path d="M560.0,387.0 L562.4,388.0 L561.2,390.0Z" stroke="#4d4d4d" stroke-width="1.2" fill="#4d4d4d" stroke-linejoin="round"/>
<path d="M517.0,378.0 L520.0,380.0 L519.0,383.0Z" stroke="#4d4d4d" stroke-width="1.2" fill="#4d4d4d" stroke-linejoin="round"/>
<path d="M524.0,380.0 L526.0,381.0 L525.0,382.4Z" stroke="#4d4d4d" stroke-width="1.2" fill="#4d4d4d" stroke-linejoin="round"/>
<path d="M526.0,394.0 L530.0,393.0 L531.0,397.0 L534.0,399.0 L532.0,401.0 L528.0,399.0Z" stroke="#4d4d4d" stroke-width="1.2" fill="#4d4d4d" stroke-linejoin="round"/>
<path d="M521.0,399.0 L524.0,400.0 L522.4,403.0Z" stroke="#4d4d4d" stroke-width="1.2" fill="#4d4d4d" stroke-linejoin="round"/>
<path d="M525.0,408.0 L529.0,409.0 L528.0,412.0 L525.0,411.0Z" stroke="#4d4d4d" stroke-width="1.2" fill="#4d4d4d" stroke-linejoin="round"/>
<path d="M536.0,416.0 L540.0,417.0 L539.0,420.0 L535.6,419.0Z" stroke="#4d4d4d" stroke-width="1.2" fill="#4d4d4d" stroke-linejoin="round"/>
<path d="M538.0,422.0 L542.0,421.0 L545.0,426.0 L541.0,428.0 L537.0,426.0Z" stroke="#4d4d4d" stroke-width="1.2" fill="#4d4d4d" stroke-linejoin="round"/>
<path d="M531.0,427.0 L535.0,428.0 L534.0,431.0 L530.4,430.0Z" stroke="#4d4d4d" stroke-width="1.2" fill="#4d4d4d" stroke-linejoin="round"/>
<path d="M528.0,423.0 L530.0,424.0 L529.2,426.0Z" stroke="#4d4d4d" stroke-width="1.2" fill="#4d4d4d" stroke-linejoin="round"/>
<path d="M534.0,426.0 L540.0,422.0 L543.0,423.0 L540.0,427.0 L536.0,429.0 L533.0,429.0Z" stroke="#4d4d4d" stroke-width="1.2" fill="#4d4d4d" stroke-linejoin="round"/>
<path d="M541.0,429.0 L545.0,428.0 L546.0,432.0 L543.0,434.0 L540.0,432.0Z" stroke="#4d4d4d" stroke-width="1.2" fill="#4d4d4d" stroke-linejoin="round"/>
<path d="M548.0,433.0 L551.0,434.0 L550.4,439.0 L547.6,438.0Z" stroke="#4d4d4d" stroke-width="1.2" fill="#4d4d4d" stroke-linejoin="round"/>
<path d="M523.0,435.0 L528.0,436.0 L530.0,439.0 L527.0,441.0 L523.0,439.0Z" stroke="#4d4d4d" stroke-width="1.2" fill="#4d4d4d" stroke-linejoin="round"/>
<path d="M530.0,441.0 L534.0,440.0 L535.0,443.0 L531.0,444.0Z" stroke="#4d4d4d" stroke-width="1.2" fill="#4d4d4d" stroke-linejoin="round"/>
<path d="M536.0,444.0 L538.0,443.6 L538.0,445.6 L536.0,445.6Z" stroke="#4d4d4d" stroke-width="1.2" fill="#4d4d4d" stroke-linejoin="round"/>
<path d="M541.0,437.0 L544.0,437.6 L543.6,440.4 L541.0,440.0Z" stroke="#4d4d4d" stroke-width="1.2" fill="#4d4d4d" stroke-linejoin="round"/>
<path d="M542.0,450.0 L539.0,451.0 L534.0,452.0 L532.0,450.0 L536.0,449.0 L540.0,448.6Z" stroke="#4d4d4d" stroke-width="1.2" fill="#4d4d4d" stroke-linejoin="round"/>
<path d="M542.4,464.4 L546.0,463.0 L547.6,466.4 L548.4,472.4 L547.0,477.6 L544.4,479.2 L541.0,480.0 L538.0,478.4 L540.4,475.0 L541.6,470.0Z" stroke="#4d4d4d" stroke-width="1.2" fill="#4d4d4d" stroke-linejoin="round"/>
<path d="M544.0,480.0 L549.0,480.0 L550.0,484.0 L546.0,486.0 L544.0,483.0Z" stroke="#4d4d4d" stroke-width="1.2" fill="#4d4d4d" stroke-linejoin="round"/>
<path d="M547.0,461.0 L549.0,461.6 L548.0,463.0Z" stroke="#4d4d4d" stroke-width="1.2" fill="#4d4d4d" stroke-linejoin="round"/>
<path d="M500.0,466.4 L505.0,466.0 L509.0,469.0 L510.0,472.4 L507.0,473.6 L503.6,471.0Z" stroke="#4d4d4d" stroke-width="1.2" fill="#4d4d4d" stroke-linejoin="round"/>
<path d="M508.0,472.4 L512.4,473.6 L514.4,478.0 L512.4,480.0 L509.0,477.0Z" stroke="#4d4d4d" stroke-width="1.2" fill="#4d4d4d" stroke-linejoin="round"/>
<path d="M511.6,480.0 L516.0,478.4 L518.4,482.4 L517.0,486.4 L513.6,485.6Z" stroke="#4d4d4d" stroke-width="1.2" fill="#4d4d4d" stroke-linejoin="round"/>
<path d="M519.2,481.2 L523.6,480.8 L524.4,484.0 L521.0,486.0Z" stroke="#4d4d4d" stroke-width="1.2" fill="#4d4d4d" stroke-linejoin="round"/>
<path d="M509.0,486.0 L513.6,487.0 L517.6,489.0 L518.4,493.6 L515.0,495.6 L511.0,493.0 L508.4,489.6Z" stroke="#4d4d4d" stroke-width="1.2" fill="#4d4d4d" stroke-linejoin="round"/>
<path d="M512.4,495.6 L518.0,494.4 L520.4,498.4 L518.4,502.0 L514.4,501.0Z" stroke="#4d4d4d" stroke-width="1.2" fill="#4d4d4d" stroke-linejoin="round"/>
<path d="M509.0,501.0 L513.6,502.0 L515.6,506.4 L513.0,509.6 L509.6,507.6Z" stroke="#4d4d4d" stroke-width="1.2" fill="#4d4d4d" stroke-linejoin="round"/>
<path d="M498.0,499.0 L502.0,498.0 L503.0,502.0 L500.0,504.0 L497.6,502.0Z" stroke="#4d4d4d" stroke-width="1.2" fill="#4d4d4d" stroke-linejoin="round"/>
<path d="M499.0,506.0 L501.0,506.4 L500.0,508.4Z" stroke="#4d4d4d" stroke-width="1.2" fill="#4d4d4d" stroke-linejoin="round"/>
<path d="M491.0,522.0 L494.0,523.0 L497.0,526.0 L498.0,530.0 L495.0,532.0 L492.0,529.0 L490.0,525.0Z" stroke="#4d4d4d" stroke-width="1.2" fill="#4d4d4d" stroke-linejoin="round"/>
<path d="M479.0,529.0 L482.0,530.0 L483.0,535.0 L480.0,536.0 L478.4,533.0Z" stroke="#4d4d4d" stroke-width="1.2" fill="#4d4d4d" stroke-linejoin="round"/>
<path d="M475.0,508.0 L478.0,509.0 L479.0,513.0 L476.0,514.0Z" stroke="#4d4d4d" stroke-width="1.2" fill="#4d4d4d" stroke-linejoin="round"/>
<path d="M472.0,524.0 L476.0,523.0 L477.0,526.0 L474.0,527.0Z" stroke="#4d4d4d" stroke-width="1.2" fill="#4d4d4d" stroke-linejoin="round"/>
<path d="M450.0,542.0 L455.0,541.0 L460.0,540.0 L463.0,539.0 L463.6,541.0 L459.0,543.0 L454.0,544.4 L451.0,545.0Z" stroke="#4d4d4d" stroke-width="1.2" fill="#4d4d4d" stroke-linejoin="round"/>
<path d="M455.0,548.0 L458.0,549.0 L457.0,551.0Z" stroke="#4d4d4d" stroke-width="1.2" fill="#4d4d4d" stroke-linejoin="round"/>
<path d="M442.0,552.0 L448.0,553.0 L452.0,557.0 L455.0,560.0 L452.0,562.0 L447.0,560.0 L443.0,557.0Z" stroke="#4d4d4d" stroke-width="1.2" fill="#4d4d4d" stroke-linejoin="round"/>
<path d="M451.0,542.0 L456.0,540.0 L462.0,539.0 L464.0,541.0 L460.0,543.0 L454.0,545.0 L451.0,544.4Z" stroke="#4d4d4d" stroke-width="1.2" fill="#4d4d4d" stroke-linejoin="round"/>
<path d="M456.0,549.0 L459.0,548.4 L458.4,551.0 L456.0,551.0Z" stroke="#4d4d4d" stroke-width="1.2" fill="#4d4d4d" stroke-linejoin="round"/>
<path d="M440.0,554.0 L446.0,552.0 L449.0,555.0 L454.0,557.0 L456.0,561.0 L454.0,565.0 L450.0,566.0 L449.0,570.0 L451.0,574.0 L449.0,578.0 L445.0,578.0 L444.0,573.0 L441.0,570.0 L439.0,573.0 L437.0,571.0 L440.0,566.0 L442.0,561.0 L439.0,558.0Z" stroke="#4d4d4d" stroke-width="1.2" fill="#4d4d4d" stroke-linejoin="round"/>
<path d="M426.0,563.0 L430.0,561.0 L433.0,559.0 L434.4,561.0 L431.0,564.0 L428.0,565.0Z" stroke="#4d4d4d" stroke-width="1.2" fill="#4d4d4d" stroke-linejoin="round"/>
<path d="M456.0,563.0 L460.0,562.0 L461.0,565.0 L457.0,566.0Z" stroke="#4d4d4d" stroke-width="1.2" fill="#4d4d4d" stroke-linejoin="round"/>
<path d="M480.0,532.0 L482.4,533.0 L481.6,536.0 L479.6,535.0Z" stroke="#4d4d4d" stroke-width="1.2" fill="#4d4d4d" stroke-linejoin="round"/>
<path d="M491.0,523.0 L496.0,525.0 L498.0,529.0 L495.0,530.0 L492.0,527.0Z" stroke="#4d4d4d" stroke-width="1.2" fill="#4d4d4d" stroke-linejoin="round"/>
<path d="M474.0,525.0 L477.0,524.0 L481.0,526.0 L480.0,528.0 L476.0,527.6Z" stroke="#4d4d4d" stroke-width="1.2" fill="#4d4d4d" stroke-linejoin="round"/>
<path d="M476.0,520.0 L479.0,521.0 L478.0,523.0Z" stroke="#4d4d4d" stroke-width="1.2" fill="#4d4d4d" stroke-linejoin="round"/>
<path d="M398.0,585.0 L403.0,584.0 L407.0,586.0 L408.0,591.0 L405.0,593.0 L401.0,590.0 L398.4,588.0Z" stroke="#4d4d4d" stroke-width="1.2" fill="#4d4d4d" stroke-linejoin="round"/>
<path d="M414.0,582.0 L417.0,583.0 L418.0,586.0 L415.6,587.0Z" stroke="#4d4d4d" stroke-width="1.2" fill="#4d4d4d" stroke-linejoin="round"/>
<path d="M418.0,590.0 L422.0,589.0 L426.0,588.0 L427.0,591.0 L423.0,593.0 L419.0,593.0Z" stroke="#4d4d4d" stroke-width="1.2" fill="#4d4d4d" stroke-linejoin="round"/>
<path d="M431.0,593.0 L435.0,592.0 L437.0,594.0 L434.0,596.0 L431.0,595.6Z" stroke="#4d4d4d" stroke-width="1.2" fill="#4d4d4d" stroke-linejoin="round"/>
<path d="M442.0,596.0 L445.0,595.0 L448.0,592.0 L452.0,590.0 L455.0,591.0 L457.0,595.0 L458.0,598.0 L455.0,599.0 L451.0,597.0 L447.0,598.0 L443.0,599.0Z" stroke="#4d4d4d" stroke-width="1.2" fill="#4d4d4d" stroke-linejoin="round"/>
<path d="M385.0,600.0 L388.0,599.0 L389.0,602.0 L386.0,603.0Z" stroke="#4d4d4d" stroke-width="1.2" fill="#4d4d4d" stroke-linejoin="round"/>
<path d="M393.0,602.0 L395.6,601.6 L395.0,604.0Z" stroke="#4d4d4d" stroke-width="1.2" fill="#4d4d4d" stroke-linejoin="round"/>
<path d="M426.0,560.0 L432.0,561.0 L436.0,560.0 L440.0,562.0 L441.0,566.0 L438.0,568.0 L434.0,566.0 L430.0,565.0 L427.0,563.0Z" stroke="#4d4d4d" stroke-width="1.2" fill="#4d4d4d" stroke-linejoin="round"/>
<path d="M398.0,585.0 L402.0,584.0 L406.0,586.0 L408.0,590.0 L406.0,593.0 L403.0,592.0 L400.0,589.0Z" stroke="#4d4d4d" stroke-width="1.2" fill="#4d4d4d" stroke-linejoin="round"/>
<path d="M414.0,583.0 L417.0,584.0 L418.0,587.0 L415.6,587.0Z" stroke="#4d4d4d" stroke-width="1.2" fill="#4d4d4d" stroke-linejoin="round"/>
<path d="M417.0,590.0 L421.0,589.0 L425.0,588.0 L428.0,590.0 L426.0,593.0 L422.0,593.0 L418.0,593.6Z" stroke="#4d4d4d" stroke-width="1.2" fill="#4d4d4d" stroke-linejoin="round"/>
<path d="M431.0,593.0 L436.0,592.0 L438.0,595.0 L434.0,596.0Z" stroke="#4d4d4d" stroke-width="1.2" fill="#4d4d4d" stroke-linejoin="round"/>
<path d="M391.0,603.0 L394.0,602.0 L395.0,605.0 L392.0,606.0Z" stroke="#4d4d4d" stroke-width="1.2" fill="#4d4d4d" stroke-linejoin="round"/>
<path d="M388.0,609.0 L390.0,608.6 L389.6,610.4Z" stroke="#4d4d4d" stroke-width="1.2" fill="#4d4d4d" stroke-linejoin="round"/>
<path d="M382.0,611.0 L386.0,610.0 L389.0,613.0 L390.0,617.0 L387.0,620.0 L384.0,618.0 L381.0,615.0Z" stroke="#4d4d4d" stroke-width="1.2" fill="#4d4d4d" stroke-linejoin="round"/>
<path d="M430.0,617.0 L434.0,615.0 L439.0,616.0 L441.0,620.0 L440.0,625.0 L436.0,628.0 L432.0,627.0 L430.0,623.0 L432.0,620.0Z" stroke="#4d4d4d" stroke-width="1.2" fill="#4d4d4d" stroke-linejoin="round"/>
<path d="M421.6,620.0 L424.0,619.6 L423.6,621.6Z" stroke="#4d4d4d" stroke-width="1.2" fill="#4d4d4d" stroke-linejoin="round"/>
<path d="M368.0,629.0 L371.0,630.0 L370.0,633.0 L367.6,632.0Z" stroke="#4d4d4d" stroke-width="1.2" fill="#4d4d4d" stroke-linejoin="round"/>
<path d="M373.0,635.0 L377.0,636.0 L376.0,639.0 L373.0,638.4Z" stroke="#4d4d4d" stroke-width="1.2" fill="#4d4d4d" stroke-linejoin="round"/>
<path d="M370.0,640.0 L373.0,642.0 L371.0,646.0 L369.0,644.0Z" stroke="#4d4d4d" stroke-width="1.2" fill="#4d4d4d" stroke-linejoin="round"/>
<path d="M367.0,649.0 L370.0,650.0 L369.0,653.0Z" stroke="#4d4d4d" stroke-width="1.2" fill="#4d4d4d" stroke-linejoin="round"/>
<path d="M365.0,660.0 L369.0,661.0 L370.0,664.0 L367.0,665.6 L364.4,663.6Z" stroke="#4d4d4d" stroke-width="1.2" fill="#4d4d4d" stroke-linejoin="round"/>
<path d="M586.3,229.4 L589.9,228.3 L592.7,230.8 L590.6,233.0 L587.7,232.3Z" stroke="#4d4d4d" stroke-width="1.2" fill="#4d4d4d" stroke-linejoin="round"/>
<path d="M594.1,230.8 L597.6,230.1 L600.4,232.3 L598.3,234.8 L595.1,233.7Z" stroke="#4d4d4d" stroke-width="1.2" fill="#4d4d4d" stroke-linejoin="round"/>
<path d="M572.3,211.1 L575.8,209.7 L578.6,211.8 L576.5,214.2 L573.0,213.7Z" stroke="#4d4d4d" stroke-width="1.2" fill="#4d4d4d" stroke-linejoin="round"/>
<path d="M562.4,213.2 L565.2,211.8 L566.9,214.6 L564.5,216.8 L562.1,216.1Z" stroke="#4d4d4d" stroke-width="1.2" fill="#4d4d4d" stroke-linejoin="round"/>
<path d="M560.3,220.3 L563.8,218.2 L565.9,220.7 L563.5,222.7 L561.0,222.4Z" stroke="#4d4d4d" stroke-width="1.2" fill="#4d4d4d" stroke-linejoin="round"/>
<path d="M538.5,194.2 L542.0,192.8 L544.1,195.6 L542.7,198.5 L539.6,197.7Z" stroke="#4d4d4d" stroke-width="1.2" fill="#4d4d4d" stroke-linejoin="round"/>
<path d="M546.9,193.5 L550.4,192.1 L552.5,194.9 L551.1,199.9 L548.6,202.7 L546.9,198.5Z" stroke="#4d4d4d" stroke-width="1.2" fill="#4d4d4d" stroke-linejoin="round"/>
<path d="M553.2,192.8 L556.1,192.1 L556.5,196.3 L554.2,197.0Z" stroke="#4d4d4d" stroke-width="1.2" fill="#4d4d4d" stroke-linejoin="round"/>
<path d="M542.7,211.1 L544.8,210.4 L545.2,213.2 L543.0,213.7Z" stroke="#4d4d4d" stroke-width="1.2" fill="#4d4d4d" stroke-linejoin="round"/>
<path d="M535.6,230.1 L538.7,228.7 L540.6,230.8 L538.5,233.0 L535.9,232.3Z" stroke="#4d4d4d" stroke-width="1.2" fill="#4d4d4d" stroke-linejoin="round"/>
<path d="M615.9,236.5 L618.7,235.8 L621.5,237.2 L620.1,239.3 L616.6,238.6Z" stroke="#4d4d4d" stroke-width="1.2" fill="#4d4d4d" stroke-linejoin="round"/>
<path d="M611.7,249.9 L615.9,248.5 L619.4,252.0 L618.7,255.5 L615.2,256.2 L613.1,253.4Z" stroke="#4d4d4d" stroke-width="1.2" fill="#4d4d4d" stroke-linejoin="round"/>
<path d="M589.2,266.1 L594.1,263.9 L599.7,265.4 L603.2,268.2 L608.2,268.9 L613.1,266.8 L615.9,268.9 L613.1,271.7 L608.2,272.4 L603.2,271.7 L597.6,270.3 L592.7,269.6Z" stroke="#4d4d4d" stroke-width="1.2" fill="#4d4d4d" stroke-linejoin="round"/>
<path d="M577.9,274.5 L581.4,273.1 L583.5,275.9 L581.4,280.1 L578.6,278.7Z" stroke="#4d4d4d" stroke-width="1.2" fill="#4d4d4d" stroke-linejoin="round"/>
<path d="M592.0,280.1 L596.2,278.7 L600.4,280.8 L602.5,284.4 L599.7,287.2 L594.8,286.5 L592.0,283.7Z" stroke="#4d4d4d" stroke-width="1.2" fill="#4d4d4d" stroke-linejoin="round"/>
<path d="M606.8,275.2 L608.9,274.5 L609.6,276.6 L607.5,277.3Z" stroke="#4d4d4d" stroke-width="1.2" fill="#4d4d4d" stroke-linejoin="round"/>
<path d="M625.1,262.5 L627.5,262.1 L627.7,264.4 L625.5,264.6Z" stroke="#4d4d4d" stroke-width="1.2" fill="#4d4d4d" stroke-linejoin="round"/>
<path d="M625.8,247.0 L627.2,246.8 L627.2,248.2 L625.8,248.2Z" stroke="#4d4d4d" stroke-width="1.2" fill="#4d4d4d" stroke-linejoin="round"/>
<path d="M503.0,204.0 L507.0,203.0 L508.0,207.0 L504.4,208.0Z" stroke="#4d4d4d" stroke-width="1.2" fill="#4d4d4d" stroke-linejoin="round"/>
<path d="M512.0,205.6 L513.6,206.0 L513.2,207.6Z" stroke="#4d4d4d" stroke-width="1.2" fill="#4d4d4d" stroke-linejoin="round"/>
<path d="M520.0,206.0 L522.4,206.4 L521.6,208.4Z" stroke="#4d4d4d" stroke-width="1.2" fill="#4d4d4d" stroke-linejoin="round"/>
<path d="M501.0,157.0 L503.6,156.0 L504.4,159.0 L501.6,159.6Z" stroke="#4d4d4d" stroke-width="1.2" fill="#4d4d4d" stroke-linejoin="round"/>
<path d="M506.0,153.0 L510.0,152.4 L511.0,155.0 L507.0,155.6Z" stroke="#4d4d4d" stroke-width="1.2" fill="#4d4d4d" stroke-linejoin="round"/>
<path d="M519.0,159.0 L522.0,158.0 L522.4,163.0 L519.6,163.0Z" stroke="#4d4d4d" stroke-width="1.2" fill="#4d4d4d" stroke-linejoin="round"/>
<path d="M567.0,201.0 L573.0,198.0 L580.0,195.0 L584.0,198.0 L588.0,203.0 L587.0,207.0 L582.0,210.0 L576.0,209.0 L571.0,205.0Z" stroke="#4d4d4d" stroke-width="2.2" fill="none" stroke-linejoin="round"/>
<path d="M577.0,219.0 L580.0,215.6 L583.6,217.0 L582.4,221.6 L578.4,222.4Z" stroke="#4d4d4d" stroke-width="2.2" fill="none" stroke-linejoin="round"/>
<path d="M549.7,218.2 L553.2,220.3 L556.1,225.2 L560.3,224.5 L565.9,223.1 L570.8,222.4 L573.7,225.2 L577.2,228.0 L580.7,230.1 L584.2,232.3 L586.3,234.4 L590.6,235.1 L594.1,237.9 L597.6,240.7 L599.7,244.2 L600.4,247.7 L599.0,252.0 L595.5,254.1 L592.0,252.7 L588.5,250.6 L585.6,248.5 L582.1,246.3 L577.9,245.6 L573.7,244.9 L570.1,244.2 L565.9,244.2 L562.4,243.5 L559.6,241.4 L557.5,237.9 L555.4,235.1 L553.2,232.3 L551.8,228.0 L550.4,223.1Z" stroke="#4d4d4d" stroke-width="2.2" fill="none" stroke-linejoin="round"/>
<path d="M536.0,236.0 L540.0,232.4 L545.0,234.0 L548.0,239.0 L547.6,245.0 L544.0,249.0 L539.0,249.0 L536.4,244.0Z" stroke="#4d4d4d" stroke-width="2.2" fill="none" stroke-linejoin="round"/>
<path d="M547.0,231.0 L550.0,229.0 L552.4,231.6 L550.4,235.0 L547.6,234.4Z" stroke="#4d4d4d" stroke-width="2.2" fill="none" stroke-linejoin="round"/>
<path d="M594.0,179.0 L599.0,176.0 L606.0,177.0 L612.0,179.0 L610.0,183.0 L603.0,184.0 L597.0,183.0Z" stroke="#4d4d4d" stroke-width="2.2" fill="none" stroke-linejoin="round"/>
<path d="M603.0,255.0 L608.0,253.6 L613.0,257.0 L614.0,263.0 L610.0,267.0 L605.0,264.0Z" stroke="#4d4d4d" stroke-width="2.2" fill="none" stroke-linejoin="round"/>
<path d="M566.0,285.0 L569.0,279.0 L575.0,277.0 L579.0,282.0 L583.0,288.0 L581.0,293.0 L576.0,294.0 L573.0,289.0 L569.0,288.0Z" stroke="#4d4d4d" stroke-width="2.2" fill="none" stroke-linejoin="round"/>
<path d="M580.0,274.0 L586.0,270.0 L592.0,270.0 L597.0,274.0 L595.0,279.0 L589.0,278.0 L584.0,279.0Z" stroke="#4d4d4d" stroke-width="2.2" fill="none" stroke-linejoin="round"/>
<path d="M548.0,258.0 L553.0,254.0 L557.0,257.0 L559.0,262.0 L552.0,262.4Z" stroke="#4d4d4d" stroke-width="2.2" fill="none" stroke-linejoin="round"/>
<path d="M550.0,278.0 L555.0,273.0 L560.0,270.0 L563.0,271.0 L561.0,275.0 L557.0,279.0 L552.0,281.0Z" stroke="#4d4d4d" stroke-width="2.2" fill="none" stroke-linejoin="round"/>
<path d="M440.0,545.0 L444.0,544.0 L449.0,546.0 L448.0,549.0 L443.0,549.6 L440.0,548.4 L437.0,548.0 L436.0,545.6Z" stroke="#4d4d4d" stroke-width="2.2" fill="none" stroke-linejoin="round"/>
<path d="M433.0,540.0 L439.0,539.0 L444.0,542.0 L447.0,546.0 L445.0,549.0 L439.0,549.0 L435.0,547.0 L432.4,544.0Z" stroke="#4d4d4d" stroke-width="2.2" fill="none" stroke-linejoin="round"/>
<path d="M229.0,142.0 L230.0,139.0 L231.0,136.0 L230.4,133.0 L231.0,130.0 L233.0,128.0 L236.0,125.0 L238.0,122.4 L240.4,120.0 L241.0,116.0 L241.4,112.0 L242.0,109.0 L244.0,106.0 L245.0,103.0 L246.0,100.0 L248.0,97.0 L250.0,95.0 L251.0,92.0 L251.6,88.0 L251.6,82.0 L250.0,80.0 L249.0,77.0 L251.0,74.0 L254.0,72.0 L258.0,70.4 L262.0,70.0 L267.0,69.0 L270.0,70.0 L273.0,72.0 L276.0,70.4 L280.0,70.0 L284.0,70.4 L284.0,70.4 L287.0,70.0 L289.0,72.0 L291.0,77.0 L293.0,82.0 L295.0,86.0 L297.0,90.0 L300.0,93.0 L303.0,95.6 L306.0,98.0 L309.0,100.6 L312.0,102.6 L316.0,104.4 L320.0,105.6 L324.0,106.4 L329.0,106.6 L334.0,106.0 L339.0,105.4 L343.0,104.0 L346.0,103.0 L347.0,105.0 L345.0,108.0 L344.6,111.0 L346.0,113.0 L349.0,112.0 L351.0,109.6 L353.0,107.0 L354.4,109.0 L354.0,112.0 L355.0,115.0 L357.0,118.0 L358.0,121.0 L358.6,125.0 L360.0,129.0 L362.4,132.0 L365.0,130.0 L368.0,126.0 L371.0,122.0 L374.0,119.0 L377.0,117.6 L380.0,118.0 L380.0,118.0 L383.0,116.4 L386.0,114.4 L389.0,112.0 L389.6,108.0 L388.4,104.0 L388.0,101.0 L391.0,100.0 L395.0,99.6 L398.0,97.0 L401.0,95.0 L405.0,95.0 L408.0,96.0 L412.0,95.6 L415.0,93.6 L419.0,93.0 L422.0,91.0 L425.0,93.0 L427.6,94.0 L428.0,98.0 L428.4,103.0 L428.0,108.0 L427.6,111.0 L429.0,114.0 L428.0,118.0 L427.0,121.0 L430.0,120.0 L432.4,122.4 L435.0,119.0 L438.0,117.6 L441.0,117.6 L443.6,119.0 L444.4,122.4 L445.0,127.0 L448.0,129.0 L452.0,129.0 L455.6,128.0 L457.6,131.0 L460.0,133.6 L462.6,136.0 L463.0,140.0 L462.0,143.6 L458.0,146.0 L454.0,148.0 L450.0,150.0 L448.0,153.0 L446.0,156.0 L442.0,157.6 L438.0,158.0 L434.0,159.0 L430.0,161.0 L427.0,163.6 L424.0,167.0 L421.6,170.0 L420.0,174.0 L419.0,179.0 L418.0,183.0 L415.0,185.0 L414.0,187.0 L417.0,188.0 L418.0,191.0 L420.0,193.0 L420.0,196.0 L412.0,196.0 L412.0,203.6 L420.0,202.0 L428.0,201.0 L428.0,197.0 L432.4,199.0 L436.0,202.0 L438.0,204.4 L442.0,202.0 L447.0,199.6 L450.0,197.0 L451.0,193.0 L455.0,191.6 L460.0,190.6 L466.0,190.6 L471.0,192.0 L476.0,194.4 L481.0,198.0 L486.0,202.4 L491.0,207.6 L495.0,212.0 L495.0,213.0 L500.0,220.0 L505.0,228.0 L510.0,234.0 L514.0,240.0 L518.0,245.0 L524.0,247.6 L530.0,250.0 L536.0,253.0 L542.0,256.0 L548.0,259.0 L554.0,261.0 L560.0,262.0 L566.0,261.0 L572.0,259.6 L576.0,260.0 L574.0,263.0 L568.0,266.0 L562.0,269.0 L556.0,272.0 L551.0,275.0 L548.0,279.0 L545.0,284.0 L540.0,289.0 L535.0,294.0 L530.0,298.0 L524.0,303.0 L518.0,308.0 L512.0,312.0 L506.0,313.6 L502.0,313.0 L498.0,316.0 L494.0,312.0 L490.0,314.0 L487.0,318.0 L488.0,322.0 L488.0,322.0 L485.0,322.0 L486.0,326.0 L484.0,330.0 L485.0,333.0 L490.0,334.4 L493.0,335.0 L496.0,331.0 L500.0,327.0 L504.0,324.0 L509.0,321.0 L514.0,318.0 L519.0,315.0 L524.0,313.0 L528.0,310.0 L532.0,306.0 L536.0,302.0 L540.0,300.0 L545.0,298.4 L550.0,299.6 L555.0,302.0 L558.0,307.0 L556.0,312.0 L554.0,317.0 L553.0,322.0 L555.0,327.0 L552.0,330.0 L549.6,333.0 L549.0,340.0 L549.6,346.0 L552.0,352.0 L554.4,357.0 L554.0,362.0 L556.0,367.0 L555.6,374.0 L554.0,380.0 L551.0,386.0 L549.0,381.0 L546.0,378.0 L542.0,380.0 L538.0,378.0 L534.0,384.0 L531.0,380.0 L530.0,374.0 L531.0,370.0 L532.4,364.0 L532.0,354.0 L530.0,354.4 L529.0,364.0 L526.0,369.0 L521.0,372.0 L516.0,371.0 L512.0,367.0 L507.0,364.0 L504.0,359.0 L500.0,354.0 L498.0,355.0 L501.0,360.0 L499.0,365.0 L502.0,369.0 L500.0,372.0 L494.0,371.0 L489.0,370.0 L484.0,371.0 L480.0,367.0 L477.0,365.6 L483.0,371.0 L488.0,374.0 L487.0,378.0 L492.0,379.0 L498.0,376.0 L504.0,377.0 L510.0,378.0 L514.0,382.0 L517.0,385.0 L512.0,386.0 L506.0,385.6 L500.0,387.6 L497.6,392.0 L500.0,393.0 L506.0,390.0 L513.0,389.0 L518.0,392.0 L520.0,397.0 L519.0,402.0 L522.0,406.0 L519.0,410.0 L516.0,408.0 L512.0,406.0 L508.0,407.0 L502.0,404.0 L497.0,401.0 L495.0,403.0 L500.0,406.0 L506.0,408.0 L511.0,411.0 L515.0,415.0 L516.0,420.0 L515.6,426.0 L516.0,432.0 L515.0,431.0 L511.0,435.0 L506.0,437.0 L500.0,438.4 L492.0,439.0 L486.4,439.4 L492.4,441.0 L499.0,445.0 L503.0,452.0 L506.0,459.0 L507.6,465.0 L509.0,471.0 L512.0,477.0 L514.4,482.0 L513.6,488.0 L511.0,494.0 L509.0,500.0 L507.0,504.0 L503.6,500.0 L500.0,496.0 L494.0,493.0 L488.0,494.0 L483.0,498.0 L482.0,504.0 L478.0,510.0 L478.6,513.9 L476.3,517.3 L474.1,519.6 L470.7,517.3 L468.5,512.8 L465.1,513.4 L462.3,517.3 L461.7,523.0 L463.4,527.5 L459.4,529.7 L454.9,533.1 L449.3,536.5 L448.2,533.1 L445.9,525.2 L444.2,519.6 L448.2,517.3 L453.8,512.8 L456.1,507.2 L458.3,503.8 L460.0,499.3 L458.3,493.7 L454.9,490.3 L452.7,486.9 L450.4,486.9 L448.2,491.4 L444.2,499.3 L442.0,507.2 L440.8,515.1 L436.9,519.6 L432.4,523.0 L429.0,530.8 L424.5,539.9 L422.3,547.7 L421.7,550.0 L423.0,550.0 L418.0,553.0 L413.0,556.0 L410.0,562.0 L406.0,568.0 L399.0,571.0 L396.0,576.0 L393.0,581.0 L389.0,585.0 L386.0,590.0 L385.0,595.0 L380.0,598.0 L377.0,601.0 L377.0,607.0 L380.0,611.0 L384.0,614.0 L386.0,619.0 L382.0,623.0 L380.0,628.0 L381.0,632.0 L377.0,634.0 L372.0,631.0 L369.0,634.0 L370.0,639.0 L367.0,644.0 L365.0,650.0 L366.0,656.0 L365.0,661.0 L362.0,664.0 L359.0,662.0 L358.0,656.0 L355.0,653.0 L353.0,648.0 L351.0,643.0 L347.0,638.0 L343.0,634.0 L342.0,629.0 L338.0,628.0 L334.0,629.0 L332.0,625.0 L329.0,623.0 L324.0,624.0 L319.0,623.6 L315.0,626.0 L313.0,629.0 L309.0,631.0 L305.0,634.0 L300.0,637.0 L300.0,637.0 L296.0,638.0 L291.0,640.0 L286.0,641.0 L282.0,642.0 L278.0,641.0 L274.0,640.0 L270.0,641.0 L267.0,637.0 L264.0,633.0 L261.0,628.0 L257.0,624.0 L258.0,619.0 L259.0,614.0 L256.0,609.0 L253.0,605.0 L251.0,601.0 L250.0,596.0 L251.6,592.0 L249.0,589.6 L244.0,590.0 L240.0,589.0 L236.0,590.0 L233.6,593.0 L233.0,598.0 L231.0,603.0 L229.0,608.0 L226.0,611.0 L221.0,612.0 L216.0,613.0 L212.0,615.0 L209.0,619.0 L205.0,622.0 L201.0,624.4 L196.0,625.0 L191.0,624.4 L186.0,623.6 L183.6,620.0 L184.0,617.0 L180.0,616.0 L176.0,617.0 L172.0,618.0 L167.0,617.0 L162.0,619.0 L158.0,619.6 L158.0,620.0 L155.0,618.0 L151.0,613.0 L152.0,608.0 L154.0,603.0 L155.6,598.0 L154.0,593.0 L152.0,588.0 L152.4,583.0 L153.6,579.0 L151.0,576.0 L148.0,572.0 L146.4,567.0 L146.0,562.0 L145.0,557.0 L143.0,553.0 L139.0,550.0 L135.0,547.0 L133.0,543.0 L132.0,538.0 L131.6,533.0 L133.0,529.0 L137.0,526.0 L138.0,522.0 L137.0,518.0 L139.0,514.0 L140.0,510.0 L139.0,506.0 L136.0,503.0 L133.0,499.0 L131.0,495.0 L128.0,497.0 L125.0,500.0 L120.0,501.0 L115.0,502.0 L111.0,500.0 L107.0,501.0 L103.0,503.0 L99.0,504.0 L96.0,502.0 L95.0,499.0 L98.0,496.0 L99.0,492.0 L98.0,487.0 L95.6,483.0 L94.0,480.0 L94.0,480.0 L98.0,478.0 L100.0,472.0 L97.0,469.0 L93.0,467.0 L94.0,462.0 L92.0,457.0 L91.0,452.0 L92.0,446.0 L91.0,441.0 L89.0,436.0 L89.6,431.0 L88.0,427.0 L85.0,423.0 L81.0,420.0 L77.0,417.0 L75.0,412.0 L73.0,407.0 L69.0,404.0 L64.0,407.0 L67.0,402.0 L64.0,399.0 L60.0,397.0 L56.0,393.0 L51.0,393.0 L49.0,389.0 L47.0,384.0 L44.0,381.0 L43.0,377.0 L44.0,373.0 L42.4,368.0 L44.0,363.0 L47.0,359.0 L49.0,354.0 L50.0,350.0 L50.0,350.0 L48.4,352.0 L52.0,351.0 L57.0,351.0 L60.0,348.0 L62.0,343.0 L64.0,338.0 L66.0,334.0 L70.0,331.0 L75.0,330.0 L78.0,328.0 L79.0,324.0 L78.0,320.0 L82.0,319.6 L87.0,319.0 L92.0,318.4 L98.0,317.6 L101.6,316.0 L102.4,311.0 L103.6,307.0 L107.0,304.0 L110.0,300.0 L114.0,297.0 L119.0,295.0 L123.0,292.0 L127.0,289.0 L130.0,286.0 L132.0,282.0 L134.0,278.0 L133.6,274.0 L136.0,270.0 L139.0,267.0 L143.0,265.0 L146.0,261.0 L148.0,257.0 L152.0,254.0 L154.4,250.0 L154.0,245.0 L153.6,240.0 L152.4,235.0 L151.0,231.0 L149.0,227.0 L150.0,223.0 L153.0,220.0 L153.0,220.0 L157.0,217.0 L158.0,214.0 L154.0,211.0 L152.4,206.0 L153.6,201.0 L152.4,198.0 L156.0,195.0 L160.0,192.4 L163.0,192.0 L167.0,194.4 L171.0,196.0 L175.0,199.0 L179.0,197.0 L183.0,198.0 L188.0,200.4 L193.0,201.6 L198.0,201.0 L199.6,197.0 L201.0,193.6 L205.0,193.0 L209.0,190.0 L213.0,190.4 L217.0,191.0 L220.0,189.0 L217.0,186.0 L215.6,181.0 L214.4,176.0 L214.0,171.0 L211.0,170.0 L207.0,168.4 L202.0,167.0 L199.4,164.0 L201.0,160.0 L202.0,157.0 L199.0,154.0 L203.0,153.6 L208.0,152.0 L211.0,149.0 L214.0,146.0 L218.0,144.0 L220.0,142.4 L222.0,147.0 L225.0,145.0 L228.0,142.0Z" stroke="#4d4d4d" stroke-width="2.4" fill="none" stroke-linejoin="round"/>
<path d="M309.0,100.6 L307.6,104.0" stroke="#4d4d4d" stroke-width="2" fill="none"/>
<path d="M324.0,106.4 L323.6,109.6" stroke="#4d4d4d" stroke-width="2" fill="none"/>
<g font-size="12.2" text-anchor="middle" stroke="#000" stroke-width="0.3">
<text x="64.9" y="398.4" textLength="11.2" lengthAdjust="spacingAndGlyphs">12</text>
<text x="65.6" y="383.6" textLength="5.6" lengthAdjust="spacingAndGlyphs">8</text>
<text x="65.6" y="368.8" textLength="5.6" lengthAdjust="spacingAndGlyphs">8</text>
<text x="65.6" y="354.0" textLength="5.6" lengthAdjust="spacingAndGlyphs">8</text>
<text x="65.6" y="339.1" textLength="5.6" lengthAdjust="spacingAndGlyphs">8</text>
<text x="91.6" y="457.5" textLength="5.6" lengthAdjust="spacingAndGlyphs">8</text>
<text x="91.6" y="442.7" textLength="5.6" lengthAdjust="spacingAndGlyphs">5</text>
<text x="91.6" y="428.0" textLength="5.6" lengthAdjust="spacingAndGlyphs">5</text>
<text x="91.6" y="413.2" textLength="5.6" lengthAdjust="spacingAndGlyphs">7</text>
<text x="90.9" y="398.4" textLength="11.2" lengthAdjust="spacingAndGlyphs">12</text>
<text x="91.6" y="383.6" textLength="5.6" lengthAdjust="spacingAndGlyphs">9</text>
<text x="91.6" y="368.8" textLength="5.6" lengthAdjust="spacingAndGlyphs">7</text>
<text x="91.6" y="354.0" textLength="5.6" lengthAdjust="spacingAndGlyphs">7</text>
<text x="91.6" y="339.1" textLength="5.6" lengthAdjust="spacingAndGlyphs">9</text>
<text x="90.9" y="324.3" textLength="11.2" lengthAdjust="spacingAndGlyphs">11</text>
<text x="116.9" y="501.6" textLength="11.2" lengthAdjust="spacingAndGlyphs">12</text>
<text x="117.6" y="486.9" textLength="5.6" lengthAdjust="spacingAndGlyphs">9</text>
<text x="117.6" y="472.2" textLength="5.6" lengthAdjust="spacingAndGlyphs">5</text>
<text x="117.6" y="457.5" textLength="5.6" lengthAdjust="spacingAndGlyphs">5</text>
<text x="117.6" y="442.7" textLength="5.6" lengthAdjust="spacingAndGlyphs">6</text>
<text x="117.6" y="428.0" textLength="5.6" lengthAdjust="spacingAndGlyphs">7</text>
<text x="117.6" y="413.2" textLength="5.6" lengthAdjust="spacingAndGlyphs">7</text>
<text x="117.6" y="398.4" textLength="5.6" lengthAdjust="spacingAndGlyphs">8</text>
<text x="117.6" y="383.6" textLength="5.6" lengthAdjust="spacingAndGlyphs">6</text>
<text x="117.6" y="368.8" textLength="5.6" lengthAdjust="spacingAndGlyphs">7</text>
<text x="117.6" y="354.0" textLength="5.6" lengthAdjust="spacingAndGlyphs">7</text>
<text x="117.6" y="339.1" textLength="5.6" lengthAdjust="spacingAndGlyphs">7</text>
<text x="116.9" y="324.3" textLength="11.2" lengthAdjust="spacingAndGlyphs">10</text>
<text x="117.6" y="309.4" textLength="5.6" lengthAdjust="spacingAndGlyphs">8</text>
<text x="142.9" y="545.6" textLength="11.2" lengthAdjust="spacingAndGlyphs">26</text>
<text x="142.9" y="531.0" textLength="11.2" lengthAdjust="spacingAndGlyphs">23</text>
<text x="142.9" y="516.3" textLength="11.2" lengthAdjust="spacingAndGlyphs">14</text>
<text x="142.9" y="501.6" textLength="11.2" lengthAdjust="spacingAndGlyphs">10</text>
<text x="142.9" y="486.9" textLength="11.2" lengthAdjust="spacingAndGlyphs">11</text>
<text x="142.9" y="472.2" textLength="11.2" lengthAdjust="spacingAndGlyphs">15</text>
<text x="142.9" y="457.5" textLength="11.2" lengthAdjust="spacingAndGlyphs">10</text>
<text x="143.6" y="442.7" textLength="5.6" lengthAdjust="spacingAndGlyphs">7</text>
<text x="143.6" y="428.0" textLength="5.6" lengthAdjust="spacingAndGlyphs">7</text>
<text x="143.6" y="413.2" textLength="5.6" lengthAdjust="spacingAndGlyphs">8</text>
<text x="143.6" y="398.4" textLength="5.6" lengthAdjust="spacingAndGlyphs">7</text>
<text x="143.6" y="383.6" textLength="5.6" lengthAdjust="spacingAndGlyphs">7</text>
<text x="143.6" y="368.8" textLength="5.6" lengthAdjust="spacingAndGlyphs">8</text>
<text x="143.6" y="354.0" textLength="5.6" lengthAdjust="spacingAndGlyphs">9</text>
<text x="143.6" y="339.1" textLength="5.6" lengthAdjust="spacingAndGlyphs">7</text>
<text x="143.6" y="324.3" textLength="5.6" lengthAdjust="spacingAndGlyphs">2</text>
<text x="143.6" y="309.4" textLength="5.6" lengthAdjust="spacingAndGlyphs">5</text>
<text x="143.6" y="294.5" textLength="5.6" lengthAdjust="spacingAndGlyphs">7</text>
<text x="143.6" y="279.6" textLength="5.6" lengthAdjust="spacingAndGlyphs">7</text>
<text x="168.9" y="618.7" textLength="11.2" lengthAdjust="spacingAndGlyphs">20</text>
<text x="168.9" y="604.1" textLength="11.2" lengthAdjust="spacingAndGlyphs">15</text>
<text x="169.6" y="589.5" textLength="5.6" lengthAdjust="spacingAndGlyphs">9</text>
<text x="169.6" y="574.9" textLength="5.6" lengthAdjust="spacingAndGlyphs">8</text>
<text x="168.9" y="560.3" textLength="11.2" lengthAdjust="spacingAndGlyphs">10</text>
<text x="168.9" y="545.6" textLength="11.2" lengthAdjust="spacingAndGlyphs">13</text>
<text x="168.9" y="531.0" textLength="11.2" lengthAdjust="spacingAndGlyphs">14</text>
<text x="168.9" y="516.3" textLength="11.2" lengthAdjust="spacingAndGlyphs">11</text>
<text x="169.6" y="501.6" textLength="5.6" lengthAdjust="spacingAndGlyphs">9</text>
<text x="169.6" y="486.9" textLength="5.6" lengthAdjust="spacingAndGlyphs">8</text>
<text x="169.6" y="472.2" textLength="5.6" lengthAdjust="spacingAndGlyphs">6</text>
<text x="168.9" y="457.5" textLength="11.2" lengthAdjust="spacingAndGlyphs">10</text>
<text x="168.9" y="442.7" textLength="11.2" lengthAdjust="spacingAndGlyphs">10</text>
<text x="169.6" y="428.0" textLength="5.6" lengthAdjust="spacingAndGlyphs">9</text>
<text x="169.6" y="413.2" textLength="5.6" lengthAdjust="spacingAndGlyphs">7</text>
<text x="169.6" y="398.4" textLength="5.6" lengthAdjust="spacingAndGlyphs">3</text>
<text x="169.6" y="383.6" textLength="5.6" lengthAdjust="spacingAndGlyphs">5</text>
<text x="169.6" y="368.8" textLength="5.6" lengthAdjust="spacingAndGlyphs">5</text>
<text x="169.6" y="354.0" textLength="5.6" lengthAdjust="spacingAndGlyphs">7</text>
<text x="169.6" y="339.1" textLength="5.6" lengthAdjust="spacingAndGlyphs">9</text>
<text x="169.6" y="324.3" textLength="5.6" lengthAdjust="spacingAndGlyphs">4</text>
<text x="169.6" y="309.4" textLength="5.6" lengthAdjust="spacingAndGlyphs">2</text>
<text x="168.9" y="294.5" textLength="11.2" lengthAdjust="spacingAndGlyphs">10</text>
<text x="168.9" y="279.6" textLength="11.2" lengthAdjust="spacingAndGlyphs">14</text>
<text x="168.9" y="264.7" textLength="11.2" lengthAdjust="spacingAndGlyphs">13</text>
<text x="169.6" y="249.8" textLength="5.6" lengthAdjust="spacingAndGlyphs">7</text>
<text x="169.6" y="234.8" textLength="5.6" lengthAdjust="spacingAndGlyphs">9</text>
<text x="168.9" y="219.9" textLength="11.2" lengthAdjust="spacingAndGlyphs">10</text>
<text x="169.6" y="204.9" textLength="5.6" lengthAdjust="spacingAndGlyphs">9</text>
<text x="194.9" y="618.7" textLength="11.2" lengthAdjust="spacingAndGlyphs">13</text>
<text x="194.9" y="604.1" textLength="11.2" lengthAdjust="spacingAndGlyphs">13</text>
<text x="194.9" y="589.5" textLength="11.2" lengthAdjust="spacingAndGlyphs">14</text>
<text x="194.9" y="574.9" textLength="11.2" lengthAdjust="spacingAndGlyphs">16</text>
<text x="194.9" y="560.3" textLength="11.2" lengthAdjust="spacingAndGlyphs">17</text>
<text x="194.9" y="545.6" textLength="11.2" lengthAdjust="spacingAndGlyphs">14</text>
<text x="194.9" y="531.0" textLength="11.2" lengthAdjust="spacingAndGlyphs">11</text>
<text x="194.9" y="516.3" textLength="11.2" lengthAdjust="spacingAndGlyphs">11</text>
<text x="194.9" y="501.6" textLength="11.2" lengthAdjust="spacingAndGlyphs">12</text>
<text x="195.6" y="486.9" textLength="5.6" lengthAdjust="spacingAndGlyphs">9</text>
<text x="195.6" y="472.2" textLength="5.6" lengthAdjust="spacingAndGlyphs">7</text>
<text x="195.6" y="457.5" textLength="5.6" lengthAdjust="spacingAndGlyphs">7</text>
<text x="195.6" y="442.7" textLength="5.6" lengthAdjust="spacingAndGlyphs">8</text>
<text x="195.6" y="428.0" textLength="5.6" lengthAdjust="spacingAndGlyphs">7</text>
<text x="195.6" y="413.2" textLength="5.6" lengthAdjust="spacingAndGlyphs">6</text>
<text x="195.6" y="398.4" textLength="5.6" lengthAdjust="spacingAndGlyphs">5</text>
<text x="195.6" y="383.6" textLength="5.6" lengthAdjust="spacingAndGlyphs">5</text>
<text x="195.6" y="368.8" textLength="5.6" lengthAdjust="spacingAndGlyphs">8</text>
<text x="194.9" y="354.0" textLength="11.2" lengthAdjust="spacingAndGlyphs">10</text>
<text x="194.9" y="339.1" textLength="11.2" lengthAdjust="spacingAndGlyphs">10</text>
<text x="195.6" y="324.3" textLength="5.6" lengthAdjust="spacingAndGlyphs">5</text>
<text x="195.6" y="309.4" textLength="5.6" lengthAdjust="spacingAndGlyphs">3</text>
<text x="195.6" y="294.5" textLength="5.6" lengthAdjust="spacingAndGlyphs">7</text>
<text x="195.6" y="279.6" textLength="5.6" lengthAdjust="spacingAndGlyphs">8</text>
<text x="195.6" y="264.7" textLength="5.6" lengthAdjust="spacingAndGlyphs">6</text>
<text x="195.6" y="249.8" textLength="5.6" lengthAdjust="spacingAndGlyphs">5</text>
<text x="195.6" y="234.8" textLength="5.6" lengthAdjust="spacingAndGlyphs">5</text>
<text x="195.6" y="219.9" textLength="5.6" lengthAdjust="spacingAndGlyphs">6</text>
<text x="221.6" y="604.1" textLength="5.6" lengthAdjust="spacingAndGlyphs">7</text>
<text x="221.6" y="589.5" textLength="5.6" lengthAdjust="spacingAndGlyphs">7</text>
<text x="220.9" y="574.9" textLength="11.2" lengthAdjust="spacingAndGlyphs">11</text>
<text x="220.9" y="560.3" textLength="11.2" lengthAdjust="spacingAndGlyphs">16</text>
<text x="220.9" y="545.6" textLength="11.2" lengthAdjust="spacingAndGlyphs">23</text>
<text x="220.9" y="531.0" textLength="11.2" lengthAdjust="spacingAndGlyphs">13</text>
<text x="220.9" y="516.3" textLength="11.2" lengthAdjust="spacingAndGlyphs">12</text>
<text x="220.9" y="501.6" textLength="11.2" lengthAdjust="spacingAndGlyphs">11</text>
<text x="220.9" y="486.9" textLength="11.2" lengthAdjust="spacingAndGlyphs">11</text>
<text x="221.6" y="472.2" textLength="5.6" lengthAdjust="spacingAndGlyphs">8</text>
<text x="221.6" y="457.5" textLength="5.6" lengthAdjust="spacingAndGlyphs">5</text>
<text x="221.6" y="442.7" textLength="5.6" lengthAdjust="spacingAndGlyphs">5</text>
<text x="221.6" y="428.0" textLength="5.6" lengthAdjust="spacingAndGlyphs">8</text>
<text x="220.9" y="413.2" textLength="11.2" lengthAdjust="spacingAndGlyphs">11</text>
<text x="221.6" y="398.4" textLength="5.6" lengthAdjust="spacingAndGlyphs">9</text>
<text x="221.6" y="383.6" textLength="5.6" lengthAdjust="spacingAndGlyphs">4</text>
<text x="221.6" y="368.8" textLength="5.6" lengthAdjust="spacingAndGlyphs">5</text>
<text x="221.6" y="354.0" textLength="5.6" lengthAdjust="spacingAndGlyphs">8</text>
<text x="221.6" y="339.1" textLength="5.6" lengthAdjust="spacingAndGlyphs">7</text>
<text x="221.6" y="324.3" textLength="5.6" lengthAdjust="spacingAndGlyphs">3</text>
<text x="221.6" y="309.4" textLength="5.6" lengthAdjust="spacingAndGlyphs">4</text>
<text x="221.6" y="294.5" textLength="5.6" lengthAdjust="spacingAndGlyphs">5</text>
<text x="221.6" y="279.6" textLength="5.6" lengthAdjust="spacingAndGlyphs">4</text>
<text x="221.6" y="264.7" textLength="5.6" lengthAdjust="spacingAndGlyphs">3</text>
<text x="221.6" y="249.8" textLength="5.6" lengthAdjust="spacingAndGlyphs">3</text>
<text x="221.6" y="234.8" textLength="5.6" lengthAdjust="spacingAndGlyphs">3</text>
<text x="221.6" y="219.9" textLength="5.6" lengthAdjust="spacingAndGlyphs">5</text>
<text x="221.6" y="204.9" textLength="5.6" lengthAdjust="spacingAndGlyphs">7</text>
<text x="221.6" y="189.9" textLength="5.6" lengthAdjust="spacingAndGlyphs">8</text>
<text x="221.6" y="174.9" textLength="5.6" lengthAdjust="spacingAndGlyphs">4</text>
<text x="221.6" y="159.9" textLength="5.6" lengthAdjust="spacingAndGlyphs">2</text>
<text x="246.9" y="589.5" textLength="11.2" lengthAdjust="spacingAndGlyphs">14</text>
<text x="247.6" y="574.9" textLength="5.6" lengthAdjust="spacingAndGlyphs">8</text>
<text x="247.6" y="560.3" textLength="5.6" lengthAdjust="spacingAndGlyphs">6</text>
<text x="247.6" y="545.6" textLength="5.6" lengthAdjust="spacingAndGlyphs">8</text>
<text x="247.6" y="531.0" textLength="5.6" lengthAdjust="spacingAndGlyphs">7</text>
<text x="247.6" y="516.3" textLength="5.6" lengthAdjust="spacingAndGlyphs">8</text>
<text x="246.9" y="501.6" textLength="11.2" lengthAdjust="spacingAndGlyphs">13</text>
<text x="246.9" y="486.9" textLength="11.2" lengthAdjust="spacingAndGlyphs">17</text>
<text x="246.9" y="472.2" textLength="11.2" lengthAdjust="spacingAndGlyphs">17</text>
<text x="246.9" y="457.5" textLength="11.2" lengthAdjust="spacingAndGlyphs">13</text>
<text x="246.9" y="442.7" textLength="11.2" lengthAdjust="spacingAndGlyphs">12</text>
<text x="246.9" y="428.0" textLength="11.2" lengthAdjust="spacingAndGlyphs">15</text>
<text x="246.9" y="413.2" textLength="11.2" lengthAdjust="spacingAndGlyphs">18</text>
<text x="246.9" y="398.4" textLength="11.2" lengthAdjust="spacingAndGlyphs">14</text>
<text x="246.9" y="383.6" textLength="11.2" lengthAdjust="spacingAndGlyphs">10</text>
<text x="247.6" y="368.8" textLength="5.6" lengthAdjust="spacingAndGlyphs">8</text>
<text x="247.6" y="354.0" textLength="5.6" lengthAdjust="spacingAndGlyphs">5</text>
<text x="247.6" y="339.1" textLength="5.6" lengthAdjust="spacingAndGlyphs">3</text>
<text x="247.6" y="309.4" textLength="5.6" lengthAdjust="spacingAndGlyphs">3</text>
<text x="247.6" y="294.5" textLength="5.6" lengthAdjust="spacingAndGlyphs">4</text>
<text x="247.6" y="279.6" textLength="5.6" lengthAdjust="spacingAndGlyphs">2</text>
<text x="247.6" y="264.7" textLength="5.6" lengthAdjust="spacingAndGlyphs">1</text>
<text x="247.6" y="249.8" textLength="5.6" lengthAdjust="spacingAndGlyphs">1</text>
<text x="247.6" y="234.8" textLength="5.6" lengthAdjust="spacingAndGlyphs">1</text>
<text x="247.6" y="219.9" textLength="5.6" lengthAdjust="spacingAndGlyphs">1</text>
<text x="247.6" y="204.9" textLength="5.6" lengthAdjust="spacingAndGlyphs">4</text>
<text x="247.6" y="189.9" textLength="5.6" lengthAdjust="spacingAndGlyphs">8</text>
<text x="247.6" y="174.9" textLength="5.6" lengthAdjust="spacingAndGlyphs">4</text>
<text x="247.6" y="159.9" textLength="5.6" lengthAdjust="spacingAndGlyphs">0</text>
<text x="273.6" y="647.8" textLength="5.6" lengthAdjust="spacingAndGlyphs">9</text>
<text x="273.6" y="633.3" textLength="5.6" lengthAdjust="spacingAndGlyphs">7</text>
<text x="272.9" y="618.7" textLength="11.2" lengthAdjust="spacingAndGlyphs">12</text>
<text x="272.9" y="604.1" textLength="11.2" lengthAdjust="spacingAndGlyphs">20</text>
<text x="272.9" y="589.5" textLength="11.2" lengthAdjust="spacingAndGlyphs">16</text>
<text x="272.9" y="574.9" textLength="11.2" lengthAdjust="spacingAndGlyphs">10</text>
<text x="273.6" y="560.3" textLength="5.6" lengthAdjust="spacingAndGlyphs">7</text>
<text x="273.6" y="545.6" textLength="5.6" lengthAdjust="spacingAndGlyphs">7</text>
<text x="273.6" y="531.0" textLength="5.6" lengthAdjust="spacingAndGlyphs">6</text>
<text x="273.6" y="516.3" textLength="5.6" lengthAdjust="spacingAndGlyphs">8</text>
<text x="273.6" y="501.6" textLength="5.6" lengthAdjust="spacingAndGlyphs">8</text>
<text x="273.6" y="486.9" textLength="5.6" lengthAdjust="spacingAndGlyphs">6</text>
<text x="273.6" y="472.2" textLength="5.6" lengthAdjust="spacingAndGlyphs">7</text>
<text x="272.9" y="457.5" textLength="11.2" lengthAdjust="spacingAndGlyphs">10</text>
<text x="272.9" y="442.7" textLength="11.2" lengthAdjust="spacingAndGlyphs">10</text>
<text x="272.9" y="428.0" textLength="11.2" lengthAdjust="spacingAndGlyphs">12</text>
<text x="272.9" y="413.2" textLength="11.2" lengthAdjust="spacingAndGlyphs">16</text>
<text x="272.9" y="398.4" textLength="11.2" lengthAdjust="spacingAndGlyphs">16</text>
<text x="273.6" y="383.6" textLength="5.6" lengthAdjust="spacingAndGlyphs">7</text>
<text x="273.6" y="368.8" textLength="5.6" lengthAdjust="spacingAndGlyphs">3</text>
<text x="273.6" y="354.0" textLength="5.6" lengthAdjust="spacingAndGlyphs">2</text>
<text x="273.6" y="339.1" textLength="5.6" lengthAdjust="spacingAndGlyphs">3</text>
<text x="273.6" y="324.3" textLength="5.6" lengthAdjust="spacingAndGlyphs">5</text>
<text x="273.6" y="309.4" textLength="5.6" lengthAdjust="spacingAndGlyphs">9</text>
<text x="273.6" y="294.5" textLength="5.6" lengthAdjust="spacingAndGlyphs">5</text>
<text x="273.6" y="279.6" textLength="5.6" lengthAdjust="spacingAndGlyphs">1</text>
<text x="273.6" y="189.9" textLength="5.6" lengthAdjust="spacingAndGlyphs">0</text>
<text x="273.6" y="174.9" textLength="5.6" lengthAdjust="spacingAndGlyphs">0</text>
<text x="298.9" y="633.3" textLength="11.2" lengthAdjust="spacingAndGlyphs">13</text>
<text x="298.9" y="618.7" textLength="11.2" lengthAdjust="spacingAndGlyphs">12</text>
<text x="298.9" y="604.1" textLength="11.2" lengthAdjust="spacingAndGlyphs">16</text>
<text x="298.9" y="589.5" textLength="11.2" lengthAdjust="spacingAndGlyphs">12</text>
<text x="299.6" y="574.9" textLength="5.6" lengthAdjust="spacingAndGlyphs">9</text>
<text x="298.9" y="560.3" textLength="11.2" lengthAdjust="spacingAndGlyphs">10</text>
<text x="299.6" y="545.6" textLength="5.6" lengthAdjust="spacingAndGlyphs">9</text>
<text x="299.6" y="531.0" textLength="5.6" lengthAdjust="spacingAndGlyphs">7</text>
<text x="299.6" y="516.3" textLength="5.6" lengthAdjust="spacingAndGlyphs">8</text>
<text x="299.6" y="501.6" textLength="5.6" lengthAdjust="spacingAndGlyphs">8</text>
<text x="299.6" y="486.9" textLength="5.6" lengthAdjust="spacingAndGlyphs">5</text>
<text x="299.6" y="472.2" textLength="5.6" lengthAdjust="spacingAndGlyphs">2</text>
<text x="299.6" y="457.5" textLength="5.6" lengthAdjust="spacingAndGlyphs">6</text>
<text x="298.9" y="442.7" textLength="11.2" lengthAdjust="spacingAndGlyphs">11</text>
<text x="298.9" y="428.0" textLength="11.2" lengthAdjust="spacingAndGlyphs">12</text>
<text x="298.9" y="413.2" textLength="11.2" lengthAdjust="spacingAndGlyphs">11</text>
<text x="298.9" y="398.4" textLength="11.2" lengthAdjust="spacingAndGlyphs">12</text>
<text x="299.6" y="383.6" textLength="5.6" lengthAdjust="spacingAndGlyphs">6</text>
<text x="299.6" y="368.8" textLength="5.6" lengthAdjust="spacingAndGlyphs">2</text>
<text x="299.6" y="354.0" textLength="5.6" lengthAdjust="spacingAndGlyphs">0</text>
<text x="299.6" y="309.4" textLength="5.6" lengthAdjust="spacingAndGlyphs">2</text>
<text x="299.6" y="294.5" textLength="5.6" lengthAdjust="spacingAndGlyphs">2</text>
<text x="299.6" y="279.6" textLength="5.6" lengthAdjust="spacingAndGlyphs">2</text>
<text x="325.6" y="618.7" textLength="5.6" lengthAdjust="spacingAndGlyphs">6</text>
<text x="324.9" y="604.1" textLength="11.2" lengthAdjust="spacingAndGlyphs">10</text>
<text x="325.6" y="589.5" textLength="5.6" lengthAdjust="spacingAndGlyphs">9</text>
<text x="324.9" y="574.9" textLength="11.2" lengthAdjust="spacingAndGlyphs">10</text>
<text x="324.9" y="560.3" textLength="11.2" lengthAdjust="spacingAndGlyphs">12</text>
<text x="325.6" y="545.6" textLength="5.6" lengthAdjust="spacingAndGlyphs">9</text>
<text x="325.6" y="531.0" textLength="5.6" lengthAdjust="spacingAndGlyphs">8</text>
<text x="325.6" y="516.3" textLength="5.6" lengthAdjust="spacingAndGlyphs">7</text>
<text x="325.6" y="501.6" textLength="5.6" lengthAdjust="spacingAndGlyphs">6</text>
<text x="325.6" y="486.9" textLength="5.6" lengthAdjust="spacingAndGlyphs">6</text>
<text x="325.6" y="472.2" textLength="5.6" lengthAdjust="spacingAndGlyphs">6</text>
<text x="325.6" y="457.5" textLength="5.6" lengthAdjust="spacingAndGlyphs">5</text>
<text x="325.6" y="442.7" textLength="5.6" lengthAdjust="spacingAndGlyphs">5</text>
<text x="325.6" y="428.0" textLength="5.6" lengthAdjust="spacingAndGlyphs">7</text>
<text x="325.6" y="413.2" textLength="5.6" lengthAdjust="spacingAndGlyphs">8</text>
<text x="325.6" y="398.4" textLength="5.6" lengthAdjust="spacingAndGlyphs">8</text>
<text x="325.6" y="383.6" textLength="5.6" lengthAdjust="spacingAndGlyphs">6</text>
<text x="325.6" y="368.8" textLength="5.6" lengthAdjust="spacingAndGlyphs">2</text>
<text x="325.6" y="354.0" textLength="5.6" lengthAdjust="spacingAndGlyphs">0</text>
<text x="325.6" y="339.1" textLength="5.6" lengthAdjust="spacingAndGlyphs">0</text>
<text x="351.6" y="662.4" textLength="5.6" lengthAdjust="spacingAndGlyphs">2</text>
<text x="351.6" y="647.8" textLength="5.6" lengthAdjust="spacingAndGlyphs">1</text>
<text x="351.6" y="633.3" textLength="5.6" lengthAdjust="spacingAndGlyphs">1</text>
<text x="351.6" y="618.7" textLength="5.6" lengthAdjust="spacingAndGlyphs">1</text>
<text x="351.6" y="604.1" textLength="5.6" lengthAdjust="spacingAndGlyphs">3</text>
<text x="351.6" y="589.5" textLength="5.6" lengthAdjust="spacingAndGlyphs">4</text>
<text x="351.6" y="574.9" textLength="5.6" lengthAdjust="spacingAndGlyphs">5</text>
<text x="351.6" y="560.3" textLength="5.6" lengthAdjust="spacingAndGlyphs">5</text>
<text x="351.6" y="545.6" textLength="5.6" lengthAdjust="spacingAndGlyphs">5</text>
<text x="351.6" y="531.0" textLength="5.6" lengthAdjust="spacingAndGlyphs">2</text>
<text x="351.6" y="516.3" textLength="5.6" lengthAdjust="spacingAndGlyphs">4</text>
<text x="351.6" y="501.6" textLength="5.6" lengthAdjust="spacingAndGlyphs">6</text>
<text x="351.6" y="486.9" textLength="5.6" lengthAdjust="spacingAndGlyphs">7</text>
<text x="351.6" y="472.2" textLength="5.6" lengthAdjust="spacingAndGlyphs">6</text>
<text x="351.6" y="457.5" textLength="5.6" lengthAdjust="spacingAndGlyphs">3</text>
<text x="351.6" y="442.7" textLength="5.6" lengthAdjust="spacingAndGlyphs">4</text>
<text x="351.6" y="428.0" textLength="5.6" lengthAdjust="spacingAndGlyphs">6</text>
<text x="351.6" y="413.2" textLength="5.6" lengthAdjust="spacingAndGlyphs">8</text>
<text x="351.6" y="398.4" textLength="5.6" lengthAdjust="spacingAndGlyphs">8</text>
<text x="351.6" y="383.6" textLength="5.6" lengthAdjust="spacingAndGlyphs">5</text>
<text x="351.6" y="368.8" textLength="5.6" lengthAdjust="spacingAndGlyphs">2</text>
<text x="351.6" y="339.1" textLength="5.6" lengthAdjust="spacingAndGlyphs">0</text>
<text x="351.6" y="324.3" textLength="5.6" lengthAdjust="spacingAndGlyphs">0</text>
<text x="377.6" y="633.3" textLength="5.6" lengthAdjust="spacingAndGlyphs">2</text>
<text x="377.6" y="618.7" textLength="5.6" lengthAdjust="spacingAndGlyphs">3</text>
<text x="377.6" y="604.1" textLength="5.6" lengthAdjust="spacingAndGlyphs">2</text>
<text x="377.6" y="589.5" textLength="5.6" lengthAdjust="spacingAndGlyphs">1</text>
<text x="377.6" y="574.9" textLength="5.6" lengthAdjust="spacingAndGlyphs">1</text>
<text x="377.6" y="560.3" textLength="5.6" lengthAdjust="spacingAndGlyphs">1</text>
<text x="377.6" y="545.6" textLength="5.6" lengthAdjust="spacingAndGlyphs">1</text>
<text x="377.6" y="531.0" textLength="5.6" lengthAdjust="spacingAndGlyphs">2</text>
<text x="377.6" y="516.3" textLength="5.6" lengthAdjust="spacingAndGlyphs">3</text>
<text x="377.6" y="501.6" textLength="5.6" lengthAdjust="spacingAndGlyphs">5</text>
<text x="377.6" y="486.9" textLength="5.6" lengthAdjust="spacingAndGlyphs">7</text>
<text x="377.6" y="472.2" textLength="5.6" lengthAdjust="spacingAndGlyphs">3</text>
<text x="377.6" y="457.5" textLength="5.6" lengthAdjust="spacingAndGlyphs">2</text>
<text x="377.6" y="442.7" textLength="5.6" lengthAdjust="spacingAndGlyphs">2</text>
<text x="377.6" y="428.0" textLength="5.6" lengthAdjust="spacingAndGlyphs">3</text>
<text x="377.6" y="413.2" textLength="5.6" lengthAdjust="spacingAndGlyphs">5</text>
<text x="377.6" y="398.4" textLength="5.6" lengthAdjust="spacingAndGlyphs">5</text>
<text x="377.6" y="383.6" textLength="5.6" lengthAdjust="spacingAndGlyphs">2</text>
<text x="377.6" y="368.8" textLength="5.6" lengthAdjust="spacingAndGlyphs">1</text>
<text x="377.6" y="354.0" textLength="5.6" lengthAdjust="spacingAndGlyphs">0</text>
<text x="377.6" y="339.1" textLength="5.6" lengthAdjust="spacingAndGlyphs">0</text>
<text x="377.6" y="324.3" textLength="5.6" lengthAdjust="spacingAndGlyphs">1</text>
<text x="377.6" y="309.4" textLength="5.6" lengthAdjust="spacingAndGlyphs">1</text>
<text x="377.6" y="294.5" textLength="5.6" lengthAdjust="spacingAndGlyphs">0</text>
<text x="403.6" y="574.9" textLength="5.6" lengthAdjust="spacingAndGlyphs">1</text>
<text x="403.6" y="560.3" textLength="5.6" lengthAdjust="spacingAndGlyphs">1</text>
<text x="403.6" y="545.6" textLength="5.6" lengthAdjust="spacingAndGlyphs">4</text>
<text x="403.6" y="531.0" textLength="5.6" lengthAdjust="spacingAndGlyphs">4</text>
<text x="403.6" y="516.3" textLength="5.6" lengthAdjust="spacingAndGlyphs">4</text>
<text x="403.6" y="501.6" textLength="5.6" lengthAdjust="spacingAndGlyphs">3</text>
<text x="403.6" y="486.9" textLength="5.6" lengthAdjust="spacingAndGlyphs">4</text>
<text x="403.6" y="472.2" textLength="5.6" lengthAdjust="spacingAndGlyphs">8</text>
<text x="403.6" y="457.5" textLength="5.6" lengthAdjust="spacingAndGlyphs">8</text>
<text x="403.6" y="442.7" textLength="5.6" lengthAdjust="spacingAndGlyphs">5</text>
<text x="403.6" y="428.0" textLength="5.6" lengthAdjust="spacingAndGlyphs">1</text>
<text x="403.6" y="413.2" textLength="5.6" lengthAdjust="spacingAndGlyphs">1</text>
<text x="403.6" y="398.4" textLength="5.6" lengthAdjust="spacingAndGlyphs">2</text>
<text x="403.6" y="383.6" textLength="5.6" lengthAdjust="spacingAndGlyphs">1</text>
<text x="403.6" y="368.8" textLength="5.6" lengthAdjust="spacingAndGlyphs">1</text>
<text x="403.6" y="354.0" textLength="5.6" lengthAdjust="spacingAndGlyphs">1</text>
<text x="429.6" y="531.0" textLength="5.6" lengthAdjust="spacingAndGlyphs">3</text>
<text x="429.6" y="516.3" textLength="5.6" lengthAdjust="spacingAndGlyphs">4</text>
<text x="429.6" y="501.6" textLength="5.6" lengthAdjust="spacingAndGlyphs">4</text>
<text x="429.6" y="486.9" textLength="5.6" lengthAdjust="spacingAndGlyphs">5</text>
<text x="429.6" y="472.2" textLength="5.6" lengthAdjust="spacingAndGlyphs">4</text>
<text x="429.6" y="457.5" textLength="5.6" lengthAdjust="spacingAndGlyphs">6</text>
<text x="429.6" y="442.7" textLength="5.6" lengthAdjust="spacingAndGlyphs">4</text>
<text x="429.6" y="428.0" textLength="5.6" lengthAdjust="spacingAndGlyphs">2</text>
<text x="429.6" y="413.2" textLength="5.6" lengthAdjust="spacingAndGlyphs">2</text>
<text x="429.6" y="398.4" textLength="5.6" lengthAdjust="spacingAndGlyphs">1</text>
<text x="429.6" y="383.6" textLength="5.6" lengthAdjust="spacingAndGlyphs">1</text>
<text x="429.6" y="368.8" textLength="5.6" lengthAdjust="spacingAndGlyphs">0</text>
<text x="455.6" y="531.0" textLength="5.6" lengthAdjust="spacingAndGlyphs">0</text>
<text x="455.6" y="516.3" textLength="5.6" lengthAdjust="spacingAndGlyphs">1</text>
<text x="455.6" y="486.9" textLength="5.6" lengthAdjust="spacingAndGlyphs">2</text>
<text x="455.6" y="472.2" textLength="5.6" lengthAdjust="spacingAndGlyphs">3</text>
<text x="455.6" y="457.5" textLength="5.6" lengthAdjust="spacingAndGlyphs">2</text>
<text x="455.6" y="442.7" textLength="5.6" lengthAdjust="spacingAndGlyphs">1</text>
<text x="455.6" y="428.0" textLength="5.6" lengthAdjust="spacingAndGlyphs">1</text>
<text x="455.6" y="413.2" textLength="5.6" lengthAdjust="spacingAndGlyphs">1</text>
<text x="455.6" y="398.4" textLength="5.6" lengthAdjust="spacingAndGlyphs">1</text>
<text x="455.6" y="383.6" textLength="5.6" lengthAdjust="spacingAndGlyphs">0</text>
<text x="455.6" y="368.8" textLength="5.6" lengthAdjust="spacingAndGlyphs">1</text>
<text x="455.6" y="354.0" textLength="5.6" lengthAdjust="spacingAndGlyphs">1</text>
<text x="455.6" y="339.1" textLength="5.6" lengthAdjust="spacingAndGlyphs">0</text>
<text x="455.6" y="309.4" textLength="5.6" lengthAdjust="spacingAndGlyphs">0</text>
<text x="455.6" y="294.5" textLength="5.6" lengthAdjust="spacingAndGlyphs">0</text>
<text x="455.6" y="279.6" textLength="5.6" lengthAdjust="spacingAndGlyphs">0</text>
<text x="481.6" y="442.7" textLength="5.6" lengthAdjust="spacingAndGlyphs">0</text>
<text x="481.6" y="428.0" textLength="5.6" lengthAdjust="spacingAndGlyphs">0</text>
<text x="481.6" y="413.2" textLength="5.6" lengthAdjust="spacingAndGlyphs">0</text>
<text x="507.6" y="279.6" textLength="5.6" lengthAdjust="spacingAndGlyphs">0</text>
<text x="507.6" y="264.7" textLength="5.6" lengthAdjust="spacingAndGlyphs">0</text>
<text x="507.6" y="249.8" textLength="5.6" lengthAdjust="spacingAndGlyphs">1</text>
<text x="533.6" y="309.4" textLength="5.6" lengthAdjust="spacingAndGlyphs">0</text>
<text x="533.6" y="294.5" textLength="5.6" lengthAdjust="spacingAndGlyphs">1</text>
<text x="533.6" y="279.6" textLength="5.6" lengthAdjust="spacingAndGlyphs">1</text>
<text x="533.6" y="264.7" textLength="5.6" lengthAdjust="spacingAndGlyphs">2</text>
<text x="559.6" y="324.3" textLength="5.6" lengthAdjust="spacingAndGlyphs">0</text>
<text x="559.6" y="279.6" textLength="5.6" lengthAdjust="spacingAndGlyphs">1</text>
<text x="559.6" y="264.7" textLength="5.6" lengthAdjust="spacingAndGlyphs">1</text>
<text x="559.6" y="234.8" textLength="5.6" lengthAdjust="spacingAndGlyphs">5</text>
<text x="585.6" y="294.5" textLength="5.6" lengthAdjust="spacingAndGlyphs">1</text>
<text x="585.6" y="279.6" textLength="5.6" lengthAdjust="spacingAndGlyphs">1</text>
<text x="585.6" y="249.8" textLength="5.6" lengthAdjust="spacingAndGlyphs">3</text>
<text x="585.6" y="219.9" textLength="5.6" lengthAdjust="spacingAndGlyphs">6</text>
<text x="585.6" y="204.9" textLength="5.6" lengthAdjust="spacingAndGlyphs">5</text>
<text x="611.6" y="264.7" textLength="5.6" lengthAdjust="spacingAndGlyphs">6</text>
<text x="611.6" y="249.8" textLength="5.6" lengthAdjust="spacingAndGlyphs">7</text>
</g>
</g>
<rect x="612.7" y="492.2" width="58.8" height="179.3" fill="#fff" stroke="#b0b0b0" stroke-width="1"/>
<rect x="622.6" y="502.3" width="15" height="20" fill="#ff0000" stroke="#111" stroke-width="1"/>
<rect x="622.6" y="522.3" width="15" height="20" fill="#800040" stroke="#111" stroke-width="1"/>
<rect x="622.6" y="542.3" width="15" height="20" fill="#fa00fa" stroke="#111" stroke-width="1"/>
<rect x="622.6" y="562.3" width="15" height="20" fill="#0000e1" stroke="#111" stroke-width="1"/>
<rect x="622.6" y="582.3" width="15" height="20" fill="#61b8ff" stroke="#111" stroke-width="1"/>
<rect x="622.6" y="602.3" width="15" height="20" fill="#3dba3d" stroke="#111" stroke-width="1"/>
<rect x="622.6" y="622.3" width="15" height="20" fill="#a6f28f" stroke="#111" stroke-width="1"/>
<rect x="622.6" y="642.3" width="15" height="20" fill="#ffffff" stroke="#111" stroke-width="1"/>
<g font-size="11.4">
<text x="642.2" y="526.6" textLength="17.4" lengthAdjust="spacingAndGlyphs">400</text>
<text x="642.2" y="546.6" textLength="17.4" lengthAdjust="spacingAndGlyphs">250</text>
<text x="642.2" y="566.6" textLength="17.4" lengthAdjust="spacingAndGlyphs">100</text>
<text x="642.2" y="586.6" textLength="11.6" lengthAdjust="spacingAndGlyphs">50</text>
<text x="642.2" y="606.6" textLength="11.6" lengthAdjust="spacingAndGlyphs">25</text>
<text x="642.2" y="626.6" textLength="11.6" lengthAdjust="spacingAndGlyphs">10</text>
<text x="642.2" y="646.6" textLength="12.8" lengthAdjust="spacingAndGlyphs">0.1</text>
</g>
<rect x="39.4" y="63" width="632.1" height="608.5" fill="none" stroke="#000" stroke-width="2"/>
<g font-size="12" text-anchor="middle">
<text x="38.8" y="57.8" textLength="22.2" lengthAdjust="spacingAndGlyphs">118E</text>
<text x="38.8" y="686" textLength="22.2" lengthAdjust="spacingAndGlyphs">118E</text>
<text x="103.8" y="57.8" textLength="30.2" lengthAdjust="spacingAndGlyphs">118.5E</text>
<text x="103.8" y="686" textLength="30.2" lengthAdjust="spacingAndGlyphs">118.5E</text>
<text x="168.8" y="57.8" textLength="22.2" lengthAdjust="spacingAndGlyphs">119E</text>
<text x="168.8" y="686" textLength="22.2" lengthAdjust="spacingAndGlyphs">119E</text>
<text x="233.8" y="57.8" textLength="30.2" lengthAdjust="spacingAndGlyphs">119.5E</text>
<text x="233.8" y="686" textLength="30.2" lengthAdjust="spacingAndGlyphs">119.5E</text>
<text x="298.8" y="57.8" textLength="22.2" lengthAdjust="spacingAndGlyphs">120E</text>
<text x="298.8" y="686" textLength="22.2" lengthAdjust="spacingAndGlyphs">120E</text>
<text x="363.8" y="57.8" textLength="30.2" lengthAdjust="spacingAndGlyphs">120.5E</text>
<text x="363.8" y="686" textLength="30.2" lengthAdjust="spacingAndGlyphs">120.5E</text>
<text x="428.8" y="57.8" textLength="22.2" lengthAdjust="spacingAndGlyphs">121E</text>
<text x="428.8" y="686" textLength="22.2" lengthAdjust="spacingAndGlyphs">121E</text>
<text x="493.8" y="57.8" textLength="30.2" lengthAdjust="spacingAndGlyphs">121.5E</text>
<text x="493.8" y="686" textLength="30.2" lengthAdjust="spacingAndGlyphs">121.5E</text>
<text x="558.8" y="57.8" textLength="22.2" lengthAdjust="spacingAndGlyphs">122E</text>
<text x="558.8" y="686" textLength="22.2" lengthAdjust="spacingAndGlyphs">122E</text>
<text x="623.8" y="57.8" textLength="30.2" lengthAdjust="spacingAndGlyphs">122.5E</text>
<text x="623.8" y="686" textLength="30.2" lengthAdjust="spacingAndGlyphs">122.5E</text>
</g>
<text font-size="12" text-anchor="end" x="33.8" y="99.5" textLength="19.0" lengthAdjust="spacingAndGlyphs">31N</text>
<text font-size="12" x="676.3" y="99.5" textLength="19.0" lengthAdjust="spacingAndGlyphs">31N</text>
<text font-size="12" text-anchor="end" x="33.8" y="174.8" textLength="27.0" lengthAdjust="spacingAndGlyphs">30.5N</text>
<text font-size="12" x="676.3" y="174.8" textLength="27.0" lengthAdjust="spacingAndGlyphs">30.5N</text>
<text font-size="12" text-anchor="end" x="33.8" y="249.7" textLength="19.0" lengthAdjust="spacingAndGlyphs">30N</text>
<text font-size="12" x="676.3" y="249.7" textLength="19.0" lengthAdjust="spacingAndGlyphs">30N</text>
<text font-size="12" text-anchor="end" x="33.8" y="324.2" textLength="27.0" lengthAdjust="spacingAndGlyphs">29.5N</text>
<text font-size="12" x="676.3" y="324.2" textLength="27.0" lengthAdjust="spacingAndGlyphs">29.5N</text>
<text font-size="12" text-anchor="end" x="33.8" y="398.3" textLength="19.0" lengthAdjust="spacingAndGlyphs">29N</text>
<text font-size="12" x="676.3" y="398.3" textLength="19.0" lengthAdjust="spacingAndGlyphs">29N</text>
<text font-size="12" text-anchor="end" x="33.8" y="472.1" textLength="27.0" lengthAdjust="spacingAndGlyphs">28.5N</text>
<text font-size="12" x="676.3" y="472.1" textLength="27.0" lengthAdjust="spacingAndGlyphs">28.5N</text>
<text font-size="12" text-anchor="end" x="33.8" y="545.5" textLength="19.0" lengthAdjust="spacingAndGlyphs">28N</text>
<text font-size="12" x="676.3" y="545.5" textLength="19.0" lengthAdjust="spacingAndGlyphs">28N</text>
<text font-size="12" text-anchor="end" x="33.8" y="618.6" textLength="27.0" lengthAdjust="spacingAndGlyphs">27.5N</text>
<text font-size="12" x="676.3" y="618.6" textLength="27.0" lengthAdjust="spacingAndGlyphs">27.5N</text>
<text><tspan x="146.90" y="40.7" font-size="18.4" textLength="34.60" lengthAdjust="spacingAndGlyphs">2024</tspan><tspan x="182.00" y="41.0" font-size="17.4" textLength="16.06" lengthAdjust="spacingAndGlyphs">年</tspan><tspan x="198.56" y="40.7" font-size="18.4" textLength="16.80" lengthAdjust="spacingAndGlyphs">04</tspan><tspan x="215.86" y="41.0" font-size="17.4" textLength="16.06" lengthAdjust="spacingAndGlyphs">月</tspan><tspan x="232.42" y="40.7" font-size="18.4" textLength="16.80" lengthAdjust="spacingAndGlyphs">26</tspan><tspan x="249.72" y="41.0" font-size="17.4" textLength="16.06" lengthAdjust="spacingAndGlyphs">日</tspan><tspan x="266.28" y="40.7" font-size="18.4" textLength="16.80" lengthAdjust="spacingAndGlyphs">08</tspan><tspan x="283.58" y="41.0" font-size="17.4" textLength="32.12" lengthAdjust="spacingAndGlyphs">时至</tspan><tspan x="316.20" y="40.7" font-size="18.4" textLength="16.80" lengthAdjust="spacingAndGlyphs">04</tspan><tspan x="333.50" y="41.0" font-size="17.4" textLength="16.06" lengthAdjust="spacingAndGlyphs">月</tspan><tspan x="350.06" y="40.7" font-size="18.4" textLength="16.80" lengthAdjust="spacingAndGlyphs">27</tspan><tspan x="367.36" y="41.0" font-size="17.4" textLength="16.06" lengthAdjust="spacingAndGlyphs">日</tspan><tspan x="383.92" y="40.7" font-size="18.4" textLength="16.80" lengthAdjust="spacingAndGlyphs">08</tspan><tspan x="401.22" y="41.0" font-size="17.4" textLength="16.06" lengthAdjust="spacingAndGlyphs">时</tspan><tspan x="417.78" y="40.7" font-size="18.4" textLength="16.80" lengthAdjust="spacingAndGlyphs">24</tspan><tspan x="435.08" y="41.0" font-size="17.4" textLength="128.48" lengthAdjust="spacingAndGlyphs">小时累计雨量预报</tspan></text>
<text><tspan x="39" y="702.4" font-size="12.6" textLength="35.5" lengthAdjust="spacingAndGlyphs">单位：</tspan><tspan x="75.6" y="702.4" font-size="13" textLength="21" lengthAdjust="spacingAndGlyphs">mm</tspan></text>
<text><tspan x="460.3" y="702.4" font-size="12.6" textLength="71" lengthAdjust="spacingAndGlyphs">浙江省气象台</tspan><tspan font-size="6"> </tspan><tspan x="536.2" y="702.6" font-size="15.2" textLength="13.0" lengthAdjust="spacingAndGlyphs">04</tspan><tspan x="549.6" y="702.4" font-size="12.6" textLength="11.83" lengthAdjust="spacingAndGlyphs">月</tspan><tspan x="561.9" y="702.6" font-size="15.2" textLength="13.0" lengthAdjust="spacingAndGlyphs">25</tspan><tspan x="575.2" y="702.4" font-size="12.6" textLength="11.83" lengthAdjust="spacingAndGlyphs">日</tspan><tspan x="588.8" y="702.6" font-size="15.2" textLength="29.4" lengthAdjust="spacingAndGlyphs">05:40</tspan><tspan font-size="6"> </tspan><tspan x="623.4" y="702.4" font-size="12.6" textLength="47.3" lengthAdjust="spacingAndGlyphs">更新发布</tspan></text>
</svg></body></html>
